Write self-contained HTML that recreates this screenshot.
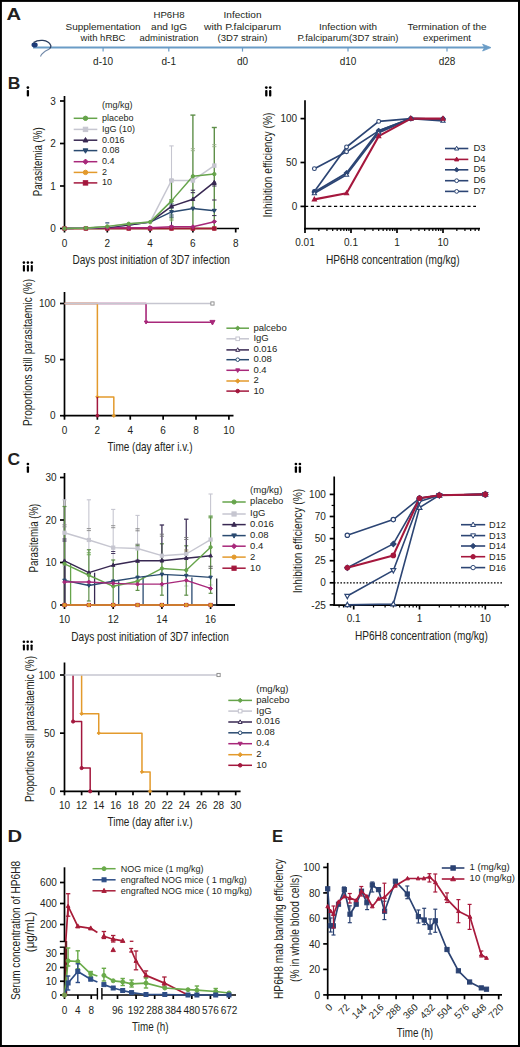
<!DOCTYPE html>
<html><head><meta charset="utf-8"><style>
html,body{margin:0;padding:0;background:#fff;}
svg{display:block;}
text{font-family:"Liberation Sans", sans-serif;fill:#231f20;}
</style></head><body>
<svg width="520" height="1047" viewBox="0 0 520 1047">
<rect width="520" height="1047" fill="#fff"/>
<rect x="0.9" y="0.9" width="518.1" height="1045.1" fill="none" stroke="#000" stroke-width="2"/>
<text x="6.50" y="19.90" font-size="16.6" text-anchor="start" font-weight="bold" textLength="14.6" lengthAdjust="spacingAndGlyphs" >A</text>
<text x="7.70" y="89.20" font-size="16.6" text-anchor="start" font-weight="bold" textLength="12.6" lengthAdjust="spacingAndGlyphs" >B</text>
<text x="7.40" y="464.50" font-size="16.6" text-anchor="start" font-weight="bold" textLength="12.6" lengthAdjust="spacingAndGlyphs" >C</text>
<text x="7.40" y="841.60" font-size="16.6" text-anchor="start" font-weight="bold" textLength="14.6" lengthAdjust="spacingAndGlyphs" >D</text>
<text x="272.10" y="841.60" font-size="16.6" text-anchor="start" font-weight="bold" >E</text>
<circle cx="27.90" cy="87.60" r="1.35" fill="#000"/>
<rect x="26.75" y="89.90" width="2.3" height="6.50" rx="0.9" fill="#000"/>
<circle cx="266.30" cy="87.60" r="1.35" fill="#000"/>
<rect x="265.15" y="90.10" width="2.3" height="6.30" rx="0.9" fill="#000"/>
<circle cx="270.20" cy="87.60" r="1.35" fill="#000"/>
<rect x="269.05" y="90.10" width="2.3" height="6.30" rx="0.9" fill="#000"/>
<circle cx="23.90" cy="262.60" r="1.3" fill="#000"/>
<rect x="22.85" y="264.90" width="2.1" height="6.70" rx="0.9" fill="#000"/>
<circle cx="27.90" cy="262.60" r="1.3" fill="#000"/>
<rect x="26.85" y="264.90" width="2.1" height="6.70" rx="0.9" fill="#000"/>
<circle cx="31.80" cy="262.60" r="1.3" fill="#000"/>
<rect x="30.75" y="264.90" width="2.1" height="6.70" rx="0.9" fill="#000"/>
<circle cx="27.90" cy="464.00" r="1.35" fill="#000"/>
<rect x="26.75" y="466.30" width="2.3" height="6.50" rx="0.9" fill="#000"/>
<circle cx="295.90" cy="464.00" r="1.35" fill="#000"/>
<rect x="294.75" y="466.30" width="2.3" height="6.50" rx="0.9" fill="#000"/>
<circle cx="299.90" cy="464.00" r="1.35" fill="#000"/>
<rect x="298.75" y="466.30" width="2.3" height="6.50" rx="0.9" fill="#000"/>
<circle cx="23.90" cy="641.80" r="1.3" fill="#000"/>
<rect x="22.85" y="644.40" width="2.1" height="6.00" rx="0.9" fill="#000"/>
<circle cx="27.70" cy="641.80" r="1.3" fill="#000"/>
<rect x="26.65" y="644.40" width="2.1" height="6.00" rx="0.9" fill="#000"/>
<circle cx="31.60" cy="641.80" r="1.3" fill="#000"/>
<rect x="30.55" y="644.40" width="2.1" height="6.00" rx="0.9" fill="#000"/>
<line x1="33.00" y1="47.60" x2="486.00" y2="47.60" stroke="#6a9cc6" stroke-width="2.0" />
<polygon points="482.6,44.2 491,47.6 482.6,51.0 484.6,47.6" fill="#6a9cc6" stroke="#6a9cc6" stroke-width="0.8" stroke-linejoin="round"/>
<ellipse cx="34.6" cy="45" rx="3.1" ry="2.4" fill="#1d3b78"/>
<path d="M33.5,42.6 C38,39.5 48,39 50.8,45.5 C51.3,47 50.5,48 49.5,48.8" fill="none" stroke="#2b3d5e" stroke-width="1.3"/>
<path d="M49.5,48.8 C48,50 46,50.6 44.5,51.8 C42.5,53.3 41,55 40.5,56.5" fill="none" stroke="#7088a8" stroke-width="1.1"/>
<line x1="103.10" y1="47.60" x2="103.10" y2="51.60" stroke="#6a9cc6" stroke-width="1.2" />
<text x="103.10" y="64.60" font-size="10" text-anchor="middle" >d-10</text>
<line x1="168.80" y1="47.60" x2="168.80" y2="51.60" stroke="#6a9cc6" stroke-width="1.2" />
<text x="168.80" y="64.60" font-size="10" text-anchor="middle" >d-1</text>
<line x1="242.50" y1="47.60" x2="242.50" y2="51.60" stroke="#6a9cc6" stroke-width="1.2" />
<text x="242.50" y="64.60" font-size="10" text-anchor="middle" >d0</text>
<line x1="348.00" y1="47.60" x2="348.00" y2="51.60" stroke="#6a9cc6" stroke-width="1.2" />
<text x="348.00" y="64.60" font-size="10" text-anchor="middle" >d10</text>
<line x1="447.00" y1="47.60" x2="447.00" y2="51.60" stroke="#6a9cc6" stroke-width="1.2" />
<text x="447.00" y="64.60" font-size="10" text-anchor="middle" >d28</text>
<text x="103.00" y="29.50" font-size="9.6" text-anchor="middle" textLength="75.0" lengthAdjust="spacingAndGlyphs" >Supplementation</text>
<text x="103.00" y="41.00" font-size="9.6" text-anchor="middle" textLength="45.0" lengthAdjust="spacingAndGlyphs" >with hRBC</text>
<text x="169.00" y="17.80" font-size="9.6" text-anchor="middle" textLength="31.0" lengthAdjust="spacingAndGlyphs" >HP6H8</text>
<text x="169.00" y="29.50" font-size="9.6" text-anchor="middle" textLength="36.0" lengthAdjust="spacingAndGlyphs" >and IgG</text>
<text x="169.00" y="41.00" font-size="9.6" text-anchor="middle" textLength="59.0" lengthAdjust="spacingAndGlyphs" >administration</text>
<text x="242.50" y="17.80" font-size="9.6" text-anchor="middle" textLength="38.0" lengthAdjust="spacingAndGlyphs" >Infection</text>
<text x="242.50" y="29.50" font-size="9.6" text-anchor="middle" textLength="77.0" lengthAdjust="spacingAndGlyphs" >with P.falciparum</text>
<text x="242.50" y="41.00" font-size="9.6" text-anchor="middle" textLength="50.0" lengthAdjust="spacingAndGlyphs" >(3D7 strain)</text>
<text x="348.00" y="29.50" font-size="9.6" text-anchor="middle" textLength="58.0" lengthAdjust="spacingAndGlyphs" >Infection with</text>
<text x="348.00" y="41.00" font-size="9.6" text-anchor="middle" textLength="101.0" lengthAdjust="spacingAndGlyphs" >P.falciparum(3D7 strain)</text>
<text x="447.00" y="29.50" font-size="9.6" text-anchor="middle" textLength="79.0" lengthAdjust="spacingAndGlyphs" >Termination of the</text>
<text x="447.00" y="41.00" font-size="9.6" text-anchor="middle" textLength="48.0" lengthAdjust="spacingAndGlyphs" >experiment</text>
<line x1="63.60" y1="228.50" x2="239.00" y2="228.50" stroke="#000" stroke-width="1.7" />
<line x1="64.50" y1="228.50" x2="64.50" y2="232.50" stroke="#000" stroke-width="1.7" />
<text x="64.50" y="247.20" font-size="10" text-anchor="middle" >0</text>
<line x1="107.30" y1="228.50" x2="107.30" y2="232.50" stroke="#000" stroke-width="1.7" />
<text x="107.30" y="247.20" font-size="10" text-anchor="middle" >2</text>
<line x1="150.10" y1="228.50" x2="150.10" y2="232.50" stroke="#000" stroke-width="1.7" />
<text x="150.10" y="247.20" font-size="10" text-anchor="middle" >4</text>
<line x1="192.90" y1="228.50" x2="192.90" y2="232.50" stroke="#000" stroke-width="1.7" />
<text x="192.90" y="247.20" font-size="10" text-anchor="middle" >6</text>
<line x1="235.70" y1="228.50" x2="235.70" y2="232.50" stroke="#000" stroke-width="1.7" />
<text x="235.70" y="247.20" font-size="10" text-anchor="middle" >8</text>
<line x1="64.50" y1="96.00" x2="64.50" y2="229.40" stroke="#000" stroke-width="1.7" />
<line x1="60.00" y1="228.50" x2="64.50" y2="228.50" stroke="#000" stroke-width="1.7" />
<text x="55.80" y="232.10" font-size="10" text-anchor="end" >0</text>
<line x1="60.00" y1="186.00" x2="64.50" y2="186.00" stroke="#000" stroke-width="1.7" />
<text x="55.80" y="189.60" font-size="10" text-anchor="end" >1</text>
<line x1="60.00" y1="143.50" x2="64.50" y2="143.50" stroke="#000" stroke-width="1.7" />
<text x="55.80" y="147.10" font-size="10" text-anchor="end" >2</text>
<line x1="60.00" y1="101.00" x2="64.50" y2="101.00" stroke="#000" stroke-width="1.7" />
<text x="55.80" y="104.60" font-size="10" text-anchor="end" >3</text>
<text x="42.00" y="161.80" font-size="12.8" text-anchor="middle" textLength="69.0" lengthAdjust="spacingAndGlyphs" transform="rotate(-90 42.00 161.80)" >Parasitemia (%)</text>
<text x="151.20" y="263.60" font-size="12.8" text-anchor="middle" textLength="157.5" lengthAdjust="spacingAndGlyphs" >Days post initiation of 3D7 infection</text>
<text x="102.00" y="108.30" font-size="9" text-anchor="start" >(mg/kg)</text>
<line x1="73.70" y1="118.30" x2="97.30" y2="118.30" stroke="#66a44b" stroke-width="1.5" />
<circle cx="85.50" cy="118.30" r="2.2" fill="#66a44b" stroke="#66a44b" stroke-width="1.0"/>
<text x="102.00" y="120.70" font-size="9" text-anchor="start" >placebo</text>
<line x1="73.70" y1="129.40" x2="97.30" y2="129.40" stroke="#c6c6d0" stroke-width="1.5" />
<rect x="83.30" y="127.20" width="4.40" height="4.40" fill="#c6c6d0" stroke="#c6c6d0" stroke-width="1.0"/>
<text x="102.00" y="131.80" font-size="9" text-anchor="start" >IgG (10)</text>
<line x1="73.70" y1="140.20" x2="97.30" y2="140.20" stroke="#382852" stroke-width="1.5" />
<polygon points="85.50,137.56 83.08,141.96 87.92,141.96" fill="#382852" stroke="#382852" stroke-width="1.0"/>
<text x="102.00" y="142.60" font-size="9" text-anchor="start" >0.016</text>
<line x1="73.70" y1="150.60" x2="97.30" y2="150.60" stroke="#2a4a70" stroke-width="1.5" />
<polygon points="85.50,153.24 83.08,148.84 87.92,148.84" fill="#2a4a70" stroke="#2a4a70" stroke-width="1.0"/>
<text x="102.00" y="153.00" font-size="9" text-anchor="start" >0.08</text>
<line x1="73.70" y1="161.70" x2="97.30" y2="161.70" stroke="#a8287a" stroke-width="1.5" />
<polygon points="85.50,159.06 88.14,161.70 85.50,164.34 82.86,161.70" fill="#a8287a" stroke="#a8287a" stroke-width="1.0"/>
<text x="102.00" y="164.10" font-size="9" text-anchor="start" >0.4</text>
<line x1="73.70" y1="172.40" x2="97.30" y2="172.40" stroke="#e39a2c" stroke-width="1.5" />
<circle cx="85.50" cy="172.40" r="2.2" fill="#e39a2c" stroke="#e39a2c" stroke-width="1.0"/>
<text x="102.00" y="174.80" font-size="9" text-anchor="start" >2</text>
<line x1="73.70" y1="182.90" x2="97.30" y2="182.90" stroke="#a3173d" stroke-width="1.5" />
<rect x="83.30" y="180.70" width="4.40" height="4.40" fill="#a3173d" stroke="#a3173d" stroke-width="1.0"/>
<text x="102.00" y="185.30" font-size="9" text-anchor="start" >10</text>
<line x1="171.50" y1="145.90" x2="171.50" y2="228.50" stroke="#c6c6d0" stroke-width="1.1" />
<line x1="169.30" y1="145.90" x2="173.70" y2="145.90" stroke="#c6c6d0" stroke-width="1.1" />
<line x1="169.30" y1="228.50" x2="173.70" y2="228.50" stroke="#c6c6d0" stroke-width="1.1" />
<line x1="192.90" y1="115.10" x2="192.90" y2="228.50" stroke="#5e8f49" stroke-width="1.4" />
<line x1="190.40" y1="115.10" x2="195.40" y2="115.10" stroke="#5e8f49" stroke-width="1.4" />
<line x1="190.40" y1="228.50" x2="195.40" y2="228.50" stroke="#5e8f49" stroke-width="1.4" />
<line x1="214.30" y1="127.50" x2="214.30" y2="228.50" stroke="#5e8f49" stroke-width="1.4" />
<line x1="211.80" y1="127.50" x2="216.80" y2="127.50" stroke="#5e8f49" stroke-width="1.4" />
<line x1="211.80" y1="228.50" x2="216.80" y2="228.50" stroke="#5e8f49" stroke-width="1.4" />
<line x1="171.50" y1="180.00" x2="171.50" y2="226.00" stroke="#382852" stroke-width="1.0" />
<line x1="169.30" y1="180.00" x2="173.70" y2="180.00" stroke="#382852" stroke-width="1.0" />
<line x1="169.30" y1="226.00" x2="173.70" y2="226.00" stroke="#382852" stroke-width="1.0" />
<line x1="171.50" y1="180.00" x2="171.50" y2="222.00" stroke="#5e8f49" stroke-width="1.3" />
<line x1="169.40" y1="199.50" x2="173.60" y2="199.50" stroke="#5e8f49" stroke-width="0.9" />
<line x1="169.40" y1="201.50" x2="173.60" y2="201.50" stroke="#5e8f49" stroke-width="0.9" />
<line x1="169.40" y1="218.00" x2="173.60" y2="218.00" stroke="#5e8f49" stroke-width="0.9" />
<line x1="169.40" y1="220.00" x2="173.60" y2="220.00" stroke="#5e8f49" stroke-width="0.9" />
<line x1="190.80" y1="148.70" x2="195.00" y2="148.70" stroke="#9ab08a" stroke-width="0.9" />
<line x1="190.80" y1="150.70" x2="195.00" y2="150.70" stroke="#9ab08a" stroke-width="0.9" />
<line x1="212.20" y1="144.70" x2="216.40" y2="144.70" stroke="#9ab08a" stroke-width="0.9" />
<line x1="212.20" y1="146.70" x2="216.40" y2="146.70" stroke="#9ab08a" stroke-width="0.9" />
<line x1="190.70" y1="190.20" x2="195.10" y2="190.20" stroke="#382852" stroke-width="1.0" />
<line x1="190.70" y1="192.70" x2="195.10" y2="192.70" stroke="#382852" stroke-width="1.0" />
<line x1="212.10" y1="184.50" x2="216.50" y2="184.50" stroke="#382852" stroke-width="1.0" />
<line x1="212.10" y1="186.00" x2="216.50" y2="186.00" stroke="#382852" stroke-width="1.0" />
<line x1="212.10" y1="200.00" x2="216.50" y2="200.00" stroke="#382852" stroke-width="1.0" />
<line x1="212.10" y1="209.80" x2="216.50" y2="209.80" stroke="#382852" stroke-width="1.0" />
<line x1="212.10" y1="215.60" x2="216.50" y2="215.60" stroke="#382852" stroke-width="1.0" />
<line x1="212.10" y1="221.30" x2="216.50" y2="221.30" stroke="#382852" stroke-width="1.0" />
<line x1="169.30" y1="204.00" x2="173.70" y2="204.00" stroke="#2a4a70" stroke-width="1.0" />
<line x1="169.30" y1="206.00" x2="173.70" y2="206.00" stroke="#2a4a70" stroke-width="1.0" />
<line x1="169.30" y1="208.00" x2="173.70" y2="208.00" stroke="#2a4a70" stroke-width="1.0" />
<line x1="169.30" y1="215.00" x2="173.70" y2="215.00" stroke="#2a4a70" stroke-width="1.0" />
<line x1="169.30" y1="217.00" x2="173.70" y2="217.00" stroke="#2a4a70" stroke-width="1.0" />
<line x1="105.30" y1="222.90" x2="109.30" y2="222.90" stroke="#2a4a70" stroke-width="1.2" />
<polyline points="64.50,228.50 85.90,228.50 107.30,228.50 128.70,228.50 150.10,228.50 171.50,228.50 192.90,228.50 214.30,228.50" fill="none" stroke="#e39a2c" stroke-width="1.5" stroke-linejoin="round" />
<polyline points="64.50,228.50 85.90,228.50 107.30,228.50 128.70,228.50 150.10,228.50 171.50,228.50 192.90,228.50 214.30,228.50" fill="none" stroke="#a3173d" stroke-width="1.5" stroke-linejoin="round" />
<polyline points="64.50,228.50 85.90,228.07 107.30,227.65 128.70,227.65 150.10,227.65 171.50,226.80 192.90,226.80 214.30,221.70" fill="none" stroke="#a8287a" stroke-width="1.5" stroke-linejoin="round" />
<polyline points="64.50,228.50 85.90,228.07 107.30,227.22 128.70,225.10 150.10,222.12 171.50,211.93 192.90,208.53 214.30,210.65" fill="none" stroke="#2a4a70" stroke-width="1.5" stroke-linejoin="round" />
<polyline points="64.50,228.50 85.90,228.07 107.30,227.22 128.70,225.10 150.10,222.12 171.50,206.40 192.90,199.18 214.30,182.18" fill="none" stroke="#382852" stroke-width="1.5" stroke-linejoin="round" />
<polyline points="64.50,228.50 85.90,228.07 107.30,226.80 128.70,223.82 150.10,222.12 171.50,180.47 192.90,180.47 214.30,165.60" fill="none" stroke="#c6c6d0" stroke-width="1.5" stroke-linejoin="round" />
<polyline points="64.50,228.50 85.90,228.07 107.30,226.38 128.70,223.82 150.10,222.12 171.50,200.88 192.90,176.22 214.30,174.10" fill="none" stroke="#66a44b" stroke-width="1.5" stroke-linejoin="round" />
<circle cx="64.50" cy="228.50" r="1.7" fill="#e39a2c" stroke="#e39a2c" stroke-width="1.0"/>
<circle cx="85.90" cy="228.50" r="1.7" fill="#e39a2c" stroke="#e39a2c" stroke-width="1.0"/>
<circle cx="107.30" cy="228.50" r="1.7" fill="#e39a2c" stroke="#e39a2c" stroke-width="1.0"/>
<circle cx="128.70" cy="228.50" r="1.7" fill="#e39a2c" stroke="#e39a2c" stroke-width="1.0"/>
<circle cx="150.10" cy="228.50" r="1.7" fill="#e39a2c" stroke="#e39a2c" stroke-width="1.0"/>
<circle cx="171.50" cy="228.50" r="1.7" fill="#e39a2c" stroke="#e39a2c" stroke-width="1.0"/>
<circle cx="192.90" cy="228.50" r="1.7" fill="#e39a2c" stroke="#e39a2c" stroke-width="1.0"/>
<circle cx="214.30" cy="228.50" r="1.7" fill="#e39a2c" stroke="#e39a2c" stroke-width="1.0"/>
<rect x="62.80" y="226.80" width="3.40" height="3.40" fill="#a3173d" stroke="#a3173d" stroke-width="1.0"/>
<rect x="84.20" y="226.80" width="3.40" height="3.40" fill="#a3173d" stroke="#a3173d" stroke-width="1.0"/>
<rect x="105.60" y="226.80" width="3.40" height="3.40" fill="#a3173d" stroke="#a3173d" stroke-width="1.0"/>
<rect x="127.00" y="226.80" width="3.40" height="3.40" fill="#a3173d" stroke="#a3173d" stroke-width="1.0"/>
<rect x="148.40" y="226.80" width="3.40" height="3.40" fill="#a3173d" stroke="#a3173d" stroke-width="1.0"/>
<rect x="169.80" y="226.80" width="3.40" height="3.40" fill="#a3173d" stroke="#a3173d" stroke-width="1.0"/>
<rect x="191.20" y="226.80" width="3.40" height="3.40" fill="#a3173d" stroke="#a3173d" stroke-width="1.0"/>
<rect x="212.60" y="226.80" width="3.40" height="3.40" fill="#a3173d" stroke="#a3173d" stroke-width="1.0"/>
<polygon points="64.50,226.46 66.54,228.50 64.50,230.54 62.46,228.50" fill="#a8287a" stroke="#a8287a" stroke-width="1.0"/>
<polygon points="85.90,226.03 87.94,228.07 85.90,230.11 83.86,228.07" fill="#a8287a" stroke="#a8287a" stroke-width="1.0"/>
<polygon points="107.30,225.61 109.34,227.65 107.30,229.69 105.26,227.65" fill="#a8287a" stroke="#a8287a" stroke-width="1.0"/>
<polygon points="128.70,225.61 130.74,227.65 128.70,229.69 126.66,227.65" fill="#a8287a" stroke="#a8287a" stroke-width="1.0"/>
<polygon points="150.10,225.61 152.14,227.65 150.10,229.69 148.06,227.65" fill="#a8287a" stroke="#a8287a" stroke-width="1.0"/>
<polygon points="171.50,224.76 173.54,226.80 171.50,228.84 169.46,226.80" fill="#a8287a" stroke="#a8287a" stroke-width="1.0"/>
<polygon points="192.90,224.76 194.94,226.80 192.90,228.84 190.86,226.80" fill="#a8287a" stroke="#a8287a" stroke-width="1.0"/>
<polygon points="214.30,219.66 216.34,221.70 214.30,223.74 212.26,221.70" fill="#a8287a" stroke="#a8287a" stroke-width="1.0"/>
<polygon points="171.50,213.97 169.63,210.56 173.37,210.56" fill="#2a4a70" stroke="#2a4a70" stroke-width="1.0"/>
<polygon points="192.90,210.56 191.03,207.16 194.77,207.16" fill="#2a4a70" stroke="#2a4a70" stroke-width="1.0"/>
<polygon points="214.30,212.69 212.43,209.29 216.17,209.29" fill="#2a4a70" stroke="#2a4a70" stroke-width="1.0"/>
<polygon points="171.50,204.36 169.63,207.76 173.37,207.76" fill="#382852" stroke="#382852" stroke-width="1.0"/>
<polygon points="192.90,197.14 191.03,200.54 194.77,200.54" fill="#382852" stroke="#382852" stroke-width="1.0"/>
<polygon points="214.30,180.14 212.43,183.54 216.17,183.54" fill="#382852" stroke="#382852" stroke-width="1.0"/>
<rect x="169.80" y="178.78" width="3.40" height="3.40" fill="#c6c6d0" stroke="#c6c6d0" stroke-width="1.0"/>
<rect x="191.20" y="178.78" width="3.40" height="3.40" fill="#c6c6d0" stroke="#c6c6d0" stroke-width="1.0"/>
<rect x="212.60" y="163.90" width="3.40" height="3.40" fill="#c6c6d0" stroke="#c6c6d0" stroke-width="1.0"/>
<circle cx="64.50" cy="228.50" r="1.7" fill="#66a44b" stroke="#66a44b" stroke-width="1.0"/>
<circle cx="85.90" cy="228.07" r="1.7" fill="#66a44b" stroke="#66a44b" stroke-width="1.0"/>
<circle cx="107.30" cy="226.38" r="1.7" fill="#66a44b" stroke="#66a44b" stroke-width="1.0"/>
<circle cx="128.70" cy="223.82" r="1.7" fill="#66a44b" stroke="#66a44b" stroke-width="1.0"/>
<circle cx="150.10" cy="222.12" r="1.7" fill="#66a44b" stroke="#66a44b" stroke-width="1.0"/>
<circle cx="171.50" cy="200.88" r="1.7" fill="#66a44b" stroke="#66a44b" stroke-width="1.0"/>
<circle cx="192.90" cy="176.22" r="1.7" fill="#66a44b" stroke="#66a44b" stroke-width="1.0"/>
<circle cx="214.30" cy="174.10" r="1.7" fill="#66a44b" stroke="#66a44b" stroke-width="1.0"/>
<line x1="304.10" y1="228.70" x2="480.00" y2="228.70" stroke="#000" stroke-width="1.7" />
<line x1="305.00" y1="228.70" x2="305.00" y2="233.00" stroke="#000" stroke-width="1.7" />
<text x="305.00" y="245.90" font-size="10" text-anchor="middle" >0.01</text>
<line x1="351.00" y1="228.70" x2="351.00" y2="233.00" stroke="#000" stroke-width="1.7" />
<text x="351.00" y="245.90" font-size="10" text-anchor="middle" >0.1</text>
<line x1="397.00" y1="228.70" x2="397.00" y2="233.00" stroke="#000" stroke-width="1.7" />
<text x="397.00" y="245.90" font-size="10" text-anchor="middle" >1</text>
<line x1="443.00" y1="228.70" x2="443.00" y2="233.00" stroke="#000" stroke-width="1.7" />
<text x="443.00" y="245.90" font-size="10" text-anchor="middle" >10</text>
<line x1="318.85" y1="228.70" x2="318.85" y2="231.00" stroke="#000" stroke-width="1.2" />
<line x1="326.95" y1="228.70" x2="326.95" y2="231.00" stroke="#000" stroke-width="1.2" />
<line x1="332.69" y1="228.70" x2="332.69" y2="231.00" stroke="#000" stroke-width="1.2" />
<line x1="337.15" y1="228.70" x2="337.15" y2="231.00" stroke="#000" stroke-width="1.2" />
<line x1="340.79" y1="228.70" x2="340.79" y2="231.00" stroke="#000" stroke-width="1.2" />
<line x1="343.87" y1="228.70" x2="343.87" y2="231.00" stroke="#000" stroke-width="1.2" />
<line x1="346.54" y1="228.70" x2="346.54" y2="231.00" stroke="#000" stroke-width="1.2" />
<line x1="348.90" y1="228.70" x2="348.90" y2="231.00" stroke="#000" stroke-width="1.2" />
<line x1="364.85" y1="228.70" x2="364.85" y2="231.00" stroke="#000" stroke-width="1.2" />
<line x1="372.95" y1="228.70" x2="372.95" y2="231.00" stroke="#000" stroke-width="1.2" />
<line x1="378.69" y1="228.70" x2="378.69" y2="231.00" stroke="#000" stroke-width="1.2" />
<line x1="383.15" y1="228.70" x2="383.15" y2="231.00" stroke="#000" stroke-width="1.2" />
<line x1="386.79" y1="228.70" x2="386.79" y2="231.00" stroke="#000" stroke-width="1.2" />
<line x1="389.87" y1="228.70" x2="389.87" y2="231.00" stroke="#000" stroke-width="1.2" />
<line x1="392.54" y1="228.70" x2="392.54" y2="231.00" stroke="#000" stroke-width="1.2" />
<line x1="394.90" y1="228.70" x2="394.90" y2="231.00" stroke="#000" stroke-width="1.2" />
<line x1="410.85" y1="228.70" x2="410.85" y2="231.00" stroke="#000" stroke-width="1.2" />
<line x1="418.95" y1="228.70" x2="418.95" y2="231.00" stroke="#000" stroke-width="1.2" />
<line x1="424.69" y1="228.70" x2="424.69" y2="231.00" stroke="#000" stroke-width="1.2" />
<line x1="429.15" y1="228.70" x2="429.15" y2="231.00" stroke="#000" stroke-width="1.2" />
<line x1="432.79" y1="228.70" x2="432.79" y2="231.00" stroke="#000" stroke-width="1.2" />
<line x1="435.87" y1="228.70" x2="435.87" y2="231.00" stroke="#000" stroke-width="1.2" />
<line x1="438.54" y1="228.70" x2="438.54" y2="231.00" stroke="#000" stroke-width="1.2" />
<line x1="440.90" y1="228.70" x2="440.90" y2="231.00" stroke="#000" stroke-width="1.2" />
<line x1="456.85" y1="228.70" x2="456.85" y2="231.00" stroke="#000" stroke-width="1.2" />
<line x1="464.95" y1="228.70" x2="464.95" y2="231.00" stroke="#000" stroke-width="1.2" />
<line x1="470.69" y1="228.70" x2="470.69" y2="231.00" stroke="#000" stroke-width="1.2" />
<line x1="475.15" y1="228.70" x2="475.15" y2="231.00" stroke="#000" stroke-width="1.2" />
<line x1="478.79" y1="228.70" x2="478.79" y2="231.00" stroke="#000" stroke-width="1.2" />
<line x1="305.00" y1="100.20" x2="305.00" y2="229.50" stroke="#000" stroke-width="1.7" />
<line x1="300.50" y1="118.60" x2="305.00" y2="118.60" stroke="#000" stroke-width="1.7" />
<text x="297.20" y="122.20" font-size="10" text-anchor="end" >100</text>
<line x1="300.50" y1="162.50" x2="305.00" y2="162.50" stroke="#000" stroke-width="1.7" />
<text x="297.20" y="166.10" font-size="10" text-anchor="end" >50</text>
<line x1="300.50" y1="206.40" x2="305.00" y2="206.40" stroke="#000" stroke-width="1.7" />
<text x="297.20" y="210.00" font-size="10" text-anchor="end" >0</text>
<line x1="305" y1="206.40" x2="476" y2="206.40" stroke="#000" stroke-width="1.3" stroke-dasharray="3.2,2.6"/>
<text x="272.20" y="165.00" font-size="12.8" text-anchor="middle" textLength="105.0" lengthAdjust="spacingAndGlyphs" transform="rotate(-90 272.20 165.00)" >Inhibition efficiency (%)</text>
<text x="392.80" y="263.80" font-size="12.8" text-anchor="middle" textLength="133.6" lengthAdjust="spacingAndGlyphs" >HP6H8 concentration (mg/kg)</text>
<polyline points="314.39,168.65 346.54,151.70 378.69,130.89 410.85,118.60 443.00,119.04" fill="none" stroke="#2c4574" stroke-width="1.7" stroke-linejoin="round" />
<polyline points="314.39,191.47 346.54,146.96 378.69,121.41 410.85,118.60 443.00,119.04" fill="none" stroke="#2c4574" stroke-width="1.7" stroke-linejoin="round" />
<polyline points="314.39,191.91 346.54,173.04 378.69,130.89 410.85,118.60 443.00,119.04" fill="none" stroke="#2c4574" stroke-width="1.7" stroke-linejoin="round" />
<polyline points="314.39,193.23 346.54,174.79 378.69,132.65 410.85,118.60 443.00,120.80" fill="none" stroke="#2c4574" stroke-width="1.7" stroke-linejoin="round" />
<polyline points="314.39,199.38 346.54,193.23 378.69,136.16 410.85,118.60 443.00,118.60" fill="none" stroke="#a5173d" stroke-width="2.1" stroke-linejoin="round" />
<circle cx="314.39" cy="168.65" r="1.9" fill="#fff" stroke="#2c4574" stroke-width="1.1"/>
<circle cx="346.54" cy="151.70" r="1.9" fill="#fff" stroke="#2c4574" stroke-width="1.1"/>
<circle cx="378.69" cy="130.89" r="1.9" fill="#fff" stroke="#2c4574" stroke-width="1.1"/>
<circle cx="410.85" cy="118.60" r="1.9" fill="#fff" stroke="#2c4574" stroke-width="1.1"/>
<circle cx="443.00" cy="119.04" r="1.9" fill="#fff" stroke="#2c4574" stroke-width="1.1"/>
<circle cx="314.39" cy="191.47" r="1.9" fill="#fff" stroke="#2c4574" stroke-width="1.1"/>
<circle cx="346.54" cy="146.96" r="1.9" fill="#fff" stroke="#2c4574" stroke-width="1.1"/>
<circle cx="378.69" cy="121.41" r="1.9" fill="#fff" stroke="#2c4574" stroke-width="1.1"/>
<circle cx="410.85" cy="118.60" r="1.9" fill="#fff" stroke="#2c4574" stroke-width="1.1"/>
<circle cx="443.00" cy="119.04" r="1.9" fill="#fff" stroke="#2c4574" stroke-width="1.1"/>
<polygon points="314.39,189.63 316.67,191.91 314.39,194.19 312.11,191.91" fill="#2c4574" stroke="#2c4574" stroke-width="1.1"/>
<polygon points="346.54,170.76 348.82,173.04 346.54,175.32 344.26,173.04" fill="#2c4574" stroke="#2c4574" stroke-width="1.1"/>
<polygon points="378.69,128.61 380.97,130.89 378.69,133.17 376.41,130.89" fill="#2c4574" stroke="#2c4574" stroke-width="1.1"/>
<polygon points="410.85,116.32 413.13,118.60 410.85,120.88 408.57,118.60" fill="#2c4574" stroke="#2c4574" stroke-width="1.1"/>
<polygon points="443.00,116.76 445.28,119.04 443.00,121.32 440.72,119.04" fill="#2c4574" stroke="#2c4574" stroke-width="1.1"/>
<polygon points="314.39,190.95 312.30,194.75 316.48,194.75" fill="#fff" stroke="#2c4574" stroke-width="1.1"/>
<polygon points="346.54,172.51 344.45,176.31 348.63,176.31" fill="#fff" stroke="#2c4574" stroke-width="1.1"/>
<polygon points="378.69,130.37 376.60,134.17 380.78,134.17" fill="#fff" stroke="#2c4574" stroke-width="1.1"/>
<polygon points="410.85,116.32 408.76,120.12 412.94,120.12" fill="#fff" stroke="#2c4574" stroke-width="1.1"/>
<polygon points="443.00,118.52 440.91,122.31 445.09,122.31" fill="#fff" stroke="#2c4574" stroke-width="1.1"/>
<polygon points="314.39,197.10 312.30,200.90 316.48,200.90" fill="#a5173d" stroke="#a5173d" stroke-width="1.1"/>
<polygon points="346.54,190.95 344.45,194.75 348.63,194.75" fill="#a5173d" stroke="#a5173d" stroke-width="1.1"/>
<polygon points="378.69,133.88 376.60,137.68 380.78,137.68" fill="#a5173d" stroke="#a5173d" stroke-width="1.1"/>
<polygon points="410.85,116.32 408.76,120.12 412.94,120.12" fill="#a5173d" stroke="#a5173d" stroke-width="1.1"/>
<polygon points="443.00,116.32 440.91,120.12 445.09,120.12" fill="#a5173d" stroke="#a5173d" stroke-width="1.1"/>
<line x1="445.00" y1="148.50" x2="468.30" y2="148.50" stroke="#2c4574" stroke-width="1.6" />
<polygon points="456.65,146.22 454.56,150.02 458.74,150.02" fill="#fff" stroke="#2c4574" stroke-width="1.0"/>
<text x="473.50" y="150.90" font-size="9.5" text-anchor="start" >D3</text>
<line x1="445.00" y1="159.40" x2="468.30" y2="159.40" stroke="#a5173d" stroke-width="1.6" />
<polygon points="456.65,157.12 454.56,160.92 458.74,160.92" fill="#a5173d" stroke="#a5173d" stroke-width="1.0"/>
<text x="473.50" y="161.80" font-size="9.5" text-anchor="start" >D4</text>
<line x1="445.00" y1="169.80" x2="468.30" y2="169.80" stroke="#2c4574" stroke-width="1.6" />
<polygon points="456.65,167.52 458.93,169.80 456.65,172.08 454.37,169.80" fill="#2c4574" stroke="#2c4574" stroke-width="1.0"/>
<text x="473.50" y="172.20" font-size="9.5" text-anchor="start" >D5</text>
<line x1="445.00" y1="180.70" x2="468.30" y2="180.70" stroke="#2c4574" stroke-width="1.6" />
<circle cx="456.65" cy="180.70" r="1.9" fill="#fff" stroke="#2c4574" stroke-width="1.0"/>
<text x="473.50" y="183.10" font-size="9.5" text-anchor="start" >D6</text>
<line x1="445.00" y1="191.40" x2="468.30" y2="191.40" stroke="#2c4574" stroke-width="1.6" />
<circle cx="456.65" cy="191.40" r="1.9" fill="#fff" stroke="#2c4574" stroke-width="1.0"/>
<text x="473.50" y="193.80" font-size="9.5" text-anchor="start" >D7</text>
<line x1="63.60" y1="415.70" x2="233.50" y2="415.70" stroke="#000" stroke-width="1.7" />
<line x1="64.50" y1="415.70" x2="64.50" y2="419.70" stroke="#000" stroke-width="1.7" />
<text x="64.50" y="434.00" font-size="10" text-anchor="middle" >0</text>
<line x1="97.38" y1="415.70" x2="97.38" y2="419.70" stroke="#000" stroke-width="1.7" />
<text x="97.38" y="434.00" font-size="10" text-anchor="middle" >2</text>
<line x1="130.26" y1="415.70" x2="130.26" y2="419.70" stroke="#000" stroke-width="1.7" />
<text x="130.26" y="434.00" font-size="10" text-anchor="middle" >4</text>
<line x1="163.14" y1="415.70" x2="163.14" y2="419.70" stroke="#000" stroke-width="1.7" />
<text x="163.14" y="434.00" font-size="10" text-anchor="middle" >6</text>
<line x1="196.02" y1="415.70" x2="196.02" y2="419.70" stroke="#000" stroke-width="1.7" />
<text x="196.02" y="434.00" font-size="10" text-anchor="middle" >8</text>
<line x1="228.90" y1="415.70" x2="228.90" y2="419.70" stroke="#000" stroke-width="1.7" />
<text x="228.90" y="434.00" font-size="10" text-anchor="middle" >10</text>
<line x1="64.50" y1="292.00" x2="64.50" y2="416.60" stroke="#000" stroke-width="1.7" />
<line x1="60.00" y1="415.70" x2="64.50" y2="415.70" stroke="#000" stroke-width="1.7" />
<text x="55.60" y="419.30" font-size="10" text-anchor="end" >0</text>
<line x1="60.00" y1="359.60" x2="64.50" y2="359.60" stroke="#000" stroke-width="1.7" />
<text x="55.60" y="363.20" font-size="10" text-anchor="end" >50</text>
<line x1="60.00" y1="303.50" x2="64.50" y2="303.50" stroke="#000" stroke-width="1.7" />
<text x="55.60" y="307.10" font-size="10" text-anchor="end" >100</text>
<text x="32.20" y="352.40" font-size="12.8" text-anchor="middle" textLength="147.0" lengthAdjust="spacingAndGlyphs" transform="rotate(-90 32.20 352.40)" >Proportions still parasitaemic (%)</text>
<text x="150.00" y="450.50" font-size="12.8" text-anchor="middle" textLength="85.0" lengthAdjust="spacingAndGlyphs" >Time (day after i.v.)</text>
<polyline points="64.50,303.50 146.04,303.50 146.04,322.24 212.46,322.24" fill="none" stroke="#a8287a" stroke-width="1.6" stroke-linejoin="round" />
<polygon points="146.04,324.04 144.39,321.04 147.69,321.04" fill="#a8287a" stroke="#a8287a" stroke-width="1.0"/>
<polygon points="212.46,325.00 209.93,320.40 214.99,320.40" fill="#a8287a" stroke="#a8287a" stroke-width="1.0"/>
<polyline points="64.50,303.50 97.38,303.50 97.38,396.96 113.82,396.96 113.82,415.70" fill="none" stroke="#e39a2c" stroke-width="1.5" stroke-linejoin="round" />
<polygon points="97.38,395.28 99.06,396.96 97.38,398.64 95.70,396.96" fill="#e39a2c" stroke="#e39a2c" stroke-width="1.0"/>
<polygon points="113.82,414.02 115.50,415.70 113.82,417.38 112.14,415.70" fill="#e39a2c" stroke="#e39a2c" stroke-width="1.0"/>
<line x1="97.38" y1="396.96" x2="97.38" y2="415.70" stroke="#a3173d" stroke-width="1.5" />
<circle cx="97.38" cy="415.70" r="1.4" fill="#a3173d" stroke="#a3173d" stroke-width="1.0"/>
<line x1="64.50" y1="303.50" x2="212.46" y2="303.50" stroke="#c6c6d0" stroke-width="1.4" />
<rect x="210.86" y="301.90" width="3.20" height="3.20" fill="#fff" stroke="#888" stroke-width="0.9"/>
<line x1="226.40" y1="328.20" x2="249.00" y2="328.20" stroke="#66a44b" stroke-width="1.5" />
<polygon points="237.70,326.04 239.86,328.20 237.70,330.36 235.54,328.20" fill="#66a44b" stroke="#66a44b" stroke-width="1.0"/>
<text x="253.40" y="330.60" font-size="9.5" text-anchor="start" >palcebo</text>
<line x1="226.40" y1="338.80" x2="249.00" y2="338.80" stroke="#c6c6d0" stroke-width="1.5" />
<rect x="235.90" y="337.00" width="3.60" height="3.60" fill="#fff" stroke="#c6c6d0" stroke-width="1.0"/>
<text x="253.40" y="341.20" font-size="9.5" text-anchor="start" >IgG</text>
<line x1="226.40" y1="349.90" x2="249.00" y2="349.90" stroke="#382852" stroke-width="1.5" />
<polygon points="237.70,347.74 235.72,351.34 239.68,351.34" fill="#fff" stroke="#382852" stroke-width="1.0"/>
<text x="253.40" y="352.30" font-size="9.5" text-anchor="start" >0.016</text>
<line x1="226.40" y1="359.70" x2="249.00" y2="359.70" stroke="#2a4a70" stroke-width="1.5" />
<circle cx="237.70" cy="359.70" r="1.8" fill="#fff" stroke="#2a4a70" stroke-width="1.0"/>
<text x="253.40" y="362.10" font-size="9.5" text-anchor="start" >0.08</text>
<line x1="226.40" y1="370.30" x2="249.00" y2="370.30" stroke="#a8287a" stroke-width="1.5" />
<polygon points="237.70,372.46 235.72,368.86 239.68,368.86" fill="#a8287a" stroke="#a8287a" stroke-width="1.0"/>
<text x="253.40" y="372.70" font-size="9.5" text-anchor="start" >0.4</text>
<line x1="226.40" y1="381.00" x2="249.00" y2="381.00" stroke="#e39a2c" stroke-width="1.5" />
<polygon points="237.70,378.84 239.86,381.00 237.70,383.16 235.54,381.00" fill="#e39a2c" stroke="#e39a2c" stroke-width="1.0"/>
<text x="253.40" y="383.40" font-size="9.5" text-anchor="start" >2</text>
<line x1="226.40" y1="391.10" x2="249.00" y2="391.10" stroke="#a3173d" stroke-width="1.5" />
<circle cx="237.70" cy="391.10" r="1.8" fill="#a3173d" stroke="#a3173d" stroke-width="1.0"/>
<text x="253.40" y="393.50" font-size="9.5" text-anchor="start" >10</text>
<line x1="63.60" y1="605.00" x2="235.00" y2="605.00" stroke="#000" stroke-width="1.7" />
<line x1="64.50" y1="605.00" x2="64.50" y2="609.00" stroke="#000" stroke-width="1.7" />
<text x="64.50" y="623.20" font-size="10" text-anchor="middle" >10</text>
<line x1="113.20" y1="605.00" x2="113.20" y2="609.00" stroke="#000" stroke-width="1.7" />
<text x="113.20" y="623.20" font-size="10" text-anchor="middle" >12</text>
<line x1="161.90" y1="605.00" x2="161.90" y2="609.00" stroke="#000" stroke-width="1.7" />
<text x="161.90" y="623.20" font-size="10" text-anchor="middle" >14</text>
<line x1="210.60" y1="605.00" x2="210.60" y2="609.00" stroke="#000" stroke-width="1.7" />
<text x="210.60" y="623.20" font-size="10" text-anchor="middle" >16</text>
<line x1="64.50" y1="473.00" x2="64.50" y2="605.90" stroke="#000" stroke-width="1.7" />
<line x1="60.00" y1="605.00" x2="64.50" y2="605.00" stroke="#000" stroke-width="1.7" />
<text x="56.50" y="608.60" font-size="10" text-anchor="end" >0</text>
<line x1="60.00" y1="562.50" x2="64.50" y2="562.50" stroke="#000" stroke-width="1.7" />
<text x="56.50" y="566.10" font-size="10" text-anchor="end" >10</text>
<line x1="60.00" y1="520.00" x2="64.50" y2="520.00" stroke="#000" stroke-width="1.7" />
<text x="56.50" y="523.60" font-size="10" text-anchor="end" >20</text>
<line x1="60.00" y1="477.50" x2="64.50" y2="477.50" stroke="#000" stroke-width="1.7" />
<text x="56.50" y="481.10" font-size="10" text-anchor="end" >30</text>
<text x="38.50" y="538.10" font-size="12.8" text-anchor="middle" textLength="68.8" lengthAdjust="spacingAndGlyphs" transform="rotate(-90 38.50 538.10)" >Parasitemia (%)</text>
<text x="150.00" y="640.50" font-size="12.8" text-anchor="middle" textLength="157.5" lengthAdjust="spacingAndGlyphs" >Days post initiation of 3D7 infection</text>
<line x1="64.50" y1="499.80" x2="64.50" y2="566.00" stroke="#c6c6d0" stroke-width="1.1" />
<line x1="62.40" y1="499.80" x2="66.60" y2="499.80" stroke="#c6c6d0" stroke-width="1.1" />
<line x1="62.40" y1="566.00" x2="66.60" y2="566.00" stroke="#c6c6d0" stroke-width="1.1" />
<line x1="88.85" y1="499.80" x2="88.85" y2="581.00" stroke="#c6c6d0" stroke-width="1.1" />
<line x1="86.75" y1="499.80" x2="90.95" y2="499.80" stroke="#c6c6d0" stroke-width="1.1" />
<line x1="86.75" y1="581.00" x2="90.95" y2="581.00" stroke="#c6c6d0" stroke-width="1.1" />
<line x1="113.20" y1="509.40" x2="113.20" y2="586.00" stroke="#c6c6d0" stroke-width="1.1" />
<line x1="111.10" y1="509.40" x2="115.30" y2="509.40" stroke="#c6c6d0" stroke-width="1.1" />
<line x1="111.10" y1="586.00" x2="115.30" y2="586.00" stroke="#c6c6d0" stroke-width="1.1" />
<line x1="137.55" y1="515.40" x2="137.55" y2="581.00" stroke="#c6c6d0" stroke-width="1.1" />
<line x1="135.45" y1="515.40" x2="139.65" y2="515.40" stroke="#c6c6d0" stroke-width="1.1" />
<line x1="135.45" y1="581.00" x2="139.65" y2="581.00" stroke="#c6c6d0" stroke-width="1.1" />
<line x1="161.90" y1="525.00" x2="161.90" y2="586.00" stroke="#c6c6d0" stroke-width="1.1" />
<line x1="159.80" y1="525.00" x2="164.00" y2="525.00" stroke="#c6c6d0" stroke-width="1.1" />
<line x1="159.80" y1="586.00" x2="164.00" y2="586.00" stroke="#c6c6d0" stroke-width="1.1" />
<line x1="186.25" y1="519.20" x2="186.25" y2="586.00" stroke="#c6c6d0" stroke-width="1.1" />
<line x1="184.15" y1="519.20" x2="188.35" y2="519.20" stroke="#c6c6d0" stroke-width="1.1" />
<line x1="184.15" y1="586.00" x2="188.35" y2="586.00" stroke="#c6c6d0" stroke-width="1.1" />
<line x1="210.60" y1="494.00" x2="210.60" y2="585.00" stroke="#c6c6d0" stroke-width="1.1" />
<line x1="208.50" y1="494.00" x2="212.70" y2="494.00" stroke="#c6c6d0" stroke-width="1.1" />
<line x1="208.50" y1="585.00" x2="212.70" y2="585.00" stroke="#c6c6d0" stroke-width="1.1" />
<line x1="64.50" y1="506.50" x2="64.50" y2="605.00" stroke="#5e8f49" stroke-width="1.2" />
<line x1="62.50" y1="506.50" x2="66.50" y2="506.50" stroke="#5e8f49" stroke-width="1.2" />
<line x1="62.50" y1="605.00" x2="66.50" y2="605.00" stroke="#5e8f49" stroke-width="1.2" />
<line x1="88.85" y1="549.75" x2="88.85" y2="601.00" stroke="#5e8f49" stroke-width="1.2" />
<line x1="86.85" y1="549.75" x2="90.85" y2="549.75" stroke="#5e8f49" stroke-width="1.2" />
<line x1="86.85" y1="601.00" x2="90.85" y2="601.00" stroke="#5e8f49" stroke-width="1.2" />
<line x1="113.20" y1="560.00" x2="113.20" y2="605.00" stroke="#5e8f49" stroke-width="1.2" />
<line x1="111.20" y1="560.00" x2="115.20" y2="560.00" stroke="#5e8f49" stroke-width="1.2" />
<line x1="111.20" y1="605.00" x2="115.20" y2="605.00" stroke="#5e8f49" stroke-width="1.2" />
<line x1="137.55" y1="545.20" x2="137.55" y2="590.40" stroke="#5e8f49" stroke-width="1.2" />
<line x1="135.55" y1="545.20" x2="139.55" y2="545.20" stroke="#5e8f49" stroke-width="1.2" />
<line x1="135.55" y1="590.40" x2="139.55" y2="590.40" stroke="#5e8f49" stroke-width="1.2" />
<line x1="161.90" y1="543.80" x2="161.90" y2="595.20" stroke="#5e8f49" stroke-width="1.2" />
<line x1="159.90" y1="543.80" x2="163.90" y2="543.80" stroke="#5e8f49" stroke-width="1.2" />
<line x1="159.90" y1="595.20" x2="163.90" y2="595.20" stroke="#5e8f49" stroke-width="1.2" />
<line x1="186.25" y1="545.80" x2="186.25" y2="595.20" stroke="#5e8f49" stroke-width="1.2" />
<line x1="184.25" y1="545.80" x2="188.25" y2="545.80" stroke="#5e8f49" stroke-width="1.2" />
<line x1="184.25" y1="595.20" x2="188.25" y2="595.20" stroke="#5e8f49" stroke-width="1.2" />
<line x1="210.60" y1="516.90" x2="210.60" y2="593.30" stroke="#5e8f49" stroke-width="1.2" />
<line x1="208.60" y1="516.90" x2="212.60" y2="516.90" stroke="#5e8f49" stroke-width="1.2" />
<line x1="208.60" y1="593.30" x2="212.60" y2="593.30" stroke="#5e8f49" stroke-width="1.2" />
<line x1="161.90" y1="525.00" x2="161.90" y2="560.00" stroke="#382852" stroke-width="1.1" />
<line x1="159.70" y1="525.00" x2="164.10" y2="525.00" stroke="#382852" stroke-width="1.1" />
<line x1="159.70" y1="560.00" x2="164.10" y2="560.00" stroke="#382852" stroke-width="1.1" />
<line x1="186.25" y1="519.20" x2="186.25" y2="558.00" stroke="#382852" stroke-width="1.1" />
<line x1="184.05" y1="519.20" x2="188.45" y2="519.20" stroke="#382852" stroke-width="1.1" />
<line x1="184.05" y1="558.00" x2="188.45" y2="558.00" stroke="#382852" stroke-width="1.1" />
<line x1="62.40" y1="524.80" x2="66.60" y2="524.80" stroke="#888" stroke-width="0.9" />
<line x1="62.40" y1="526.80" x2="66.60" y2="526.80" stroke="#888" stroke-width="0.9" />
<line x1="62.40" y1="539.00" x2="66.60" y2="539.00" stroke="#382852" stroke-width="0.9" />
<line x1="62.40" y1="541.00" x2="66.60" y2="541.00" stroke="#382852" stroke-width="0.9" />
<line x1="86.75" y1="528.60" x2="90.95" y2="528.60" stroke="#888" stroke-width="0.9" />
<line x1="86.75" y1="530.60" x2="90.95" y2="530.60" stroke="#888" stroke-width="0.9" />
<line x1="86.75" y1="552.75" x2="90.95" y2="552.75" stroke="#66a44b" stroke-width="0.9" />
<line x1="86.75" y1="554.75" x2="90.95" y2="554.75" stroke="#66a44b" stroke-width="0.9" />
<line x1="111.10" y1="525.70" x2="115.30" y2="525.70" stroke="#888" stroke-width="0.9" />
<line x1="111.10" y1="527.70" x2="115.30" y2="527.70" stroke="#888" stroke-width="0.9" />
<line x1="111.10" y1="551.50" x2="115.30" y2="551.50" stroke="#382852" stroke-width="0.9" />
<line x1="111.10" y1="553.50" x2="115.30" y2="553.50" stroke="#382852" stroke-width="0.9" />
<line x1="135.45" y1="528.80" x2="139.65" y2="528.80" stroke="#777" stroke-width="0.9" />
<line x1="135.45" y1="530.80" x2="139.65" y2="530.80" stroke="#777" stroke-width="0.9" />
<line x1="135.45" y1="544.20" x2="139.65" y2="544.20" stroke="#777" stroke-width="0.9" />
<line x1="135.45" y1="546.20" x2="139.65" y2="546.20" stroke="#777" stroke-width="0.9" />
<line x1="135.45" y1="560.20" x2="139.65" y2="560.20" stroke="#382852" stroke-width="0.9" />
<line x1="135.45" y1="562.20" x2="139.65" y2="562.20" stroke="#382852" stroke-width="0.9" />
<line x1="159.80" y1="534.20" x2="164.00" y2="534.20" stroke="#777" stroke-width="0.9" />
<line x1="159.80" y1="536.20" x2="164.00" y2="536.20" stroke="#777" stroke-width="0.9" />
<line x1="184.15" y1="537.50" x2="188.35" y2="537.50" stroke="#777" stroke-width="0.9" />
<line x1="184.15" y1="539.50" x2="188.35" y2="539.50" stroke="#777" stroke-width="0.9" />
<line x1="184.15" y1="550.00" x2="188.35" y2="550.00" stroke="#8a7a50" stroke-width="0.9" />
<line x1="184.15" y1="552.00" x2="188.35" y2="552.00" stroke="#8a7a50" stroke-width="0.9" />
<line x1="208.50" y1="515.90" x2="212.70" y2="515.90" stroke="#66a44b" stroke-width="0.9" />
<line x1="208.50" y1="517.90" x2="212.70" y2="517.90" stroke="#66a44b" stroke-width="0.9" />
<line x1="208.50" y1="566.30" x2="212.70" y2="566.30" stroke="#555" stroke-width="0.9" />
<line x1="208.50" y1="568.30" x2="212.70" y2="568.30" stroke="#555" stroke-width="0.9" />
<line x1="64.80" y1="565.00" x2="64.80" y2="605.00" stroke="#382852" stroke-width="1.3" />
<line x1="70.60" y1="564.00" x2="70.60" y2="605.00" stroke="#66a44b" stroke-width="1.3" />
<line x1="94.60" y1="572.70" x2="94.60" y2="605.00" stroke="#382852" stroke-width="1.3" />
<line x1="118.70" y1="581.30" x2="118.70" y2="605.00" stroke="#2a4a70" stroke-width="1.3" />
<line x1="143.10" y1="576.50" x2="143.10" y2="605.00" stroke="#2a4a70" stroke-width="1.3" />
<line x1="167.60" y1="574.60" x2="167.60" y2="605.00" stroke="#2a4a70" stroke-width="1.3" />
<line x1="191.90" y1="577.50" x2="191.90" y2="605.00" stroke="#2a4a70" stroke-width="1.3" />
<line x1="216.70" y1="578.50" x2="216.70" y2="605.00" stroke="#1a2030" stroke-width="1.3" />
<polyline points="64.50,532.75 88.85,539.98 113.20,547.62 137.55,548.48 161.90,555.70 186.25,554.00 210.60,539.55" fill="none" stroke="#c6c6d0" stroke-width="1.4" stroke-linejoin="round" />
<polyline points="64.50,560.80 88.85,572.70 113.20,565.05 137.55,560.80 161.90,560.80 186.25,558.25 210.60,555.70" fill="none" stroke="#382852" stroke-width="1.4" stroke-linejoin="round" />
<polyline points="64.50,563.77 88.85,575.25 113.20,586.30 137.55,581.20 161.90,568.45 186.25,570.15 210.60,547.20" fill="none" stroke="#66a44b" stroke-width="1.4" stroke-linejoin="round" />
<polyline points="64.50,580.35 88.85,585.45 113.20,581.20 137.55,577.38 161.90,574.40 186.25,575.67 210.60,577.38" fill="none" stroke="#2a4a70" stroke-width="1.4" stroke-linejoin="round" />
<polyline points="64.50,582.05 88.85,582.05 113.20,583.33 137.55,584.17 161.90,584.17 186.25,580.35 210.60,588.42" fill="none" stroke="#a8287a" stroke-width="1.4" stroke-linejoin="round" />
<polyline points="64.50,605.00 88.85,605.00 113.20,605.00 137.55,605.00 161.90,605.00 186.25,605.00 210.60,605.00" fill="none" stroke="#a3173d" stroke-width="1.4" stroke-linejoin="round" />
<polyline points="64.50,605.00 88.85,605.00 113.20,605.00 137.55,605.00 161.90,605.00 186.25,605.00 210.60,605.00" fill="none" stroke="#e39a2c" stroke-width="1.4" stroke-linejoin="round" />
<rect x="62.90" y="531.15" width="3.20" height="3.20" fill="#c6c6d0" stroke="#c6c6d0" stroke-width="1.0"/>
<rect x="87.25" y="538.38" width="3.20" height="3.20" fill="#c6c6d0" stroke="#c6c6d0" stroke-width="1.0"/>
<rect x="111.60" y="546.02" width="3.20" height="3.20" fill="#c6c6d0" stroke="#c6c6d0" stroke-width="1.0"/>
<rect x="135.95" y="546.88" width="3.20" height="3.20" fill="#c6c6d0" stroke="#c6c6d0" stroke-width="1.0"/>
<rect x="160.30" y="554.10" width="3.20" height="3.20" fill="#c6c6d0" stroke="#c6c6d0" stroke-width="1.0"/>
<rect x="184.65" y="552.40" width="3.20" height="3.20" fill="#c6c6d0" stroke="#c6c6d0" stroke-width="1.0"/>
<rect x="209.00" y="537.95" width="3.20" height="3.20" fill="#c6c6d0" stroke="#c6c6d0" stroke-width="1.0"/>
<polygon points="64.50,558.88 62.74,562.08 66.26,562.08" fill="#382852" stroke="#382852" stroke-width="1.0"/>
<polygon points="88.85,570.78 87.09,573.98 90.61,573.98" fill="#382852" stroke="#382852" stroke-width="1.0"/>
<polygon points="113.20,563.13 111.44,566.33 114.96,566.33" fill="#382852" stroke="#382852" stroke-width="1.0"/>
<polygon points="137.55,558.88 135.79,562.08 139.31,562.08" fill="#382852" stroke="#382852" stroke-width="1.0"/>
<polygon points="161.90,558.88 160.14,562.08 163.66,562.08" fill="#382852" stroke="#382852" stroke-width="1.0"/>
<polygon points="186.25,556.33 184.49,559.53 188.01,559.53" fill="#382852" stroke="#382852" stroke-width="1.0"/>
<polygon points="210.60,553.78 208.84,556.98 212.36,556.98" fill="#382852" stroke="#382852" stroke-width="1.0"/>
<circle cx="64.50" cy="563.77" r="1.6" fill="#66a44b" stroke="#66a44b" stroke-width="1.0"/>
<circle cx="88.85" cy="575.25" r="1.6" fill="#66a44b" stroke="#66a44b" stroke-width="1.0"/>
<circle cx="113.20" cy="586.30" r="1.6" fill="#66a44b" stroke="#66a44b" stroke-width="1.0"/>
<circle cx="137.55" cy="581.20" r="1.6" fill="#66a44b" stroke="#66a44b" stroke-width="1.0"/>
<circle cx="161.90" cy="568.45" r="1.6" fill="#66a44b" stroke="#66a44b" stroke-width="1.0"/>
<circle cx="186.25" cy="570.15" r="1.6" fill="#66a44b" stroke="#66a44b" stroke-width="1.0"/>
<circle cx="210.60" cy="547.20" r="1.6" fill="#66a44b" stroke="#66a44b" stroke-width="1.0"/>
<polygon points="64.50,582.27 62.74,579.07 66.26,579.07" fill="#2a4a70" stroke="#2a4a70" stroke-width="1.0"/>
<polygon points="88.85,587.37 87.09,584.17 90.61,584.17" fill="#2a4a70" stroke="#2a4a70" stroke-width="1.0"/>
<polygon points="113.20,583.12 111.44,579.92 114.96,579.92" fill="#2a4a70" stroke="#2a4a70" stroke-width="1.0"/>
<polygon points="137.55,579.29 135.79,576.10 139.31,576.10" fill="#2a4a70" stroke="#2a4a70" stroke-width="1.0"/>
<polygon points="161.90,576.32 160.14,573.12 163.66,573.12" fill="#2a4a70" stroke="#2a4a70" stroke-width="1.0"/>
<polygon points="186.25,577.59 184.49,574.39 188.01,574.39" fill="#2a4a70" stroke="#2a4a70" stroke-width="1.0"/>
<polygon points="210.60,579.29 208.84,576.10 212.36,576.10" fill="#2a4a70" stroke="#2a4a70" stroke-width="1.0"/>
<polygon points="64.50,580.13 66.42,582.05 64.50,583.97 62.58,582.05" fill="#a8287a" stroke="#a8287a" stroke-width="1.0"/>
<polygon points="88.85,580.13 90.77,582.05 88.85,583.97 86.93,582.05" fill="#a8287a" stroke="#a8287a" stroke-width="1.0"/>
<polygon points="113.20,581.41 115.12,583.33 113.20,585.25 111.28,583.33" fill="#a8287a" stroke="#a8287a" stroke-width="1.0"/>
<polygon points="137.55,582.25 139.47,584.17 137.55,586.09 135.63,584.17" fill="#a8287a" stroke="#a8287a" stroke-width="1.0"/>
<polygon points="161.90,582.25 163.82,584.17 161.90,586.09 159.98,584.17" fill="#a8287a" stroke="#a8287a" stroke-width="1.0"/>
<polygon points="186.25,578.43 188.17,580.35 186.25,582.27 184.33,580.35" fill="#a8287a" stroke="#a8287a" stroke-width="1.0"/>
<polygon points="210.60,586.50 212.52,588.42 210.60,590.34 208.68,588.42" fill="#a8287a" stroke="#a8287a" stroke-width="1.0"/>
<rect x="62.90" y="603.40" width="3.20" height="3.20" fill="#a3173d" stroke="#a3173d" stroke-width="1.0"/>
<rect x="87.25" y="603.40" width="3.20" height="3.20" fill="#a3173d" stroke="#a3173d" stroke-width="1.0"/>
<rect x="111.60" y="603.40" width="3.20" height="3.20" fill="#a3173d" stroke="#a3173d" stroke-width="1.0"/>
<rect x="135.95" y="603.40" width="3.20" height="3.20" fill="#a3173d" stroke="#a3173d" stroke-width="1.0"/>
<rect x="160.30" y="603.40" width="3.20" height="3.20" fill="#a3173d" stroke="#a3173d" stroke-width="1.0"/>
<rect x="184.65" y="603.40" width="3.20" height="3.20" fill="#a3173d" stroke="#a3173d" stroke-width="1.0"/>
<rect x="209.00" y="603.40" width="3.20" height="3.20" fill="#a3173d" stroke="#a3173d" stroke-width="1.0"/>
<circle cx="64.50" cy="605.00" r="1.6" fill="#e39a2c" stroke="#e39a2c" stroke-width="1.0"/>
<circle cx="88.85" cy="605.00" r="1.6" fill="#e39a2c" stroke="#e39a2c" stroke-width="1.0"/>
<circle cx="113.20" cy="605.00" r="1.6" fill="#e39a2c" stroke="#e39a2c" stroke-width="1.0"/>
<circle cx="137.55" cy="605.00" r="1.6" fill="#e39a2c" stroke="#e39a2c" stroke-width="1.0"/>
<circle cx="161.90" cy="605.00" r="1.6" fill="#e39a2c" stroke="#e39a2c" stroke-width="1.0"/>
<circle cx="186.25" cy="605.00" r="1.6" fill="#e39a2c" stroke="#e39a2c" stroke-width="1.0"/>
<circle cx="210.60" cy="605.00" r="1.6" fill="#e39a2c" stroke="#e39a2c" stroke-width="1.0"/>
<line x1="216.30" y1="605.00" x2="235.00" y2="605.00" stroke="#000" stroke-width="1.7" />
<text x="250.10" y="492.50" font-size="9.5" text-anchor="start" >(mg/kg)</text>
<line x1="222.40" y1="502.00" x2="245.70" y2="502.00" stroke="#66a44b" stroke-width="1.5" />
<circle cx="234.05" cy="502.00" r="2.1" fill="#66a44b" stroke="#66a44b" stroke-width="1.0"/>
<text x="250.10" y="504.40" font-size="9.5" text-anchor="start" >placebo</text>
<line x1="222.40" y1="514.00" x2="245.70" y2="514.00" stroke="#c6c6d0" stroke-width="1.5" />
<rect x="231.95" y="511.90" width="4.20" height="4.20" fill="#c6c6d0" stroke="#c6c6d0" stroke-width="1.0"/>
<text x="250.10" y="516.40" font-size="9.5" text-anchor="start" >IgG</text>
<line x1="222.40" y1="524.60" x2="245.70" y2="524.60" stroke="#382852" stroke-width="1.5" />
<polygon points="234.05,522.08 231.74,526.28 236.36,526.28" fill="#382852" stroke="#382852" stroke-width="1.0"/>
<text x="250.10" y="527.00" font-size="9.5" text-anchor="start" >0.016</text>
<line x1="222.40" y1="535.60" x2="245.70" y2="535.60" stroke="#2a4a70" stroke-width="1.5" />
<polygon points="234.05,538.12 231.74,533.92 236.36,533.92" fill="#2a4a70" stroke="#2a4a70" stroke-width="1.0"/>
<text x="250.10" y="538.00" font-size="9.5" text-anchor="start" >0.08</text>
<line x1="222.40" y1="546.20" x2="245.70" y2="546.20" stroke="#a8287a" stroke-width="1.5" />
<polygon points="234.05,543.68 236.57,546.20 234.05,548.72 231.53,546.20" fill="#a8287a" stroke="#a8287a" stroke-width="1.0"/>
<text x="250.10" y="548.60" font-size="9.5" text-anchor="start" >0.4</text>
<line x1="222.40" y1="557.10" x2="245.70" y2="557.10" stroke="#e39a2c" stroke-width="1.5" />
<circle cx="234.05" cy="557.10" r="2.1" fill="#e39a2c" stroke="#e39a2c" stroke-width="1.0"/>
<text x="250.10" y="559.50" font-size="9.5" text-anchor="start" >2</text>
<line x1="222.40" y1="568.20" x2="245.70" y2="568.20" stroke="#a3173d" stroke-width="1.5" />
<rect x="231.95" y="566.10" width="4.20" height="4.20" fill="#a3173d" stroke="#a3173d" stroke-width="1.0"/>
<text x="250.10" y="570.60" font-size="9.5" text-anchor="start" >10</text>
<line x1="333.30" y1="605.20" x2="509.00" y2="605.20" stroke="#000" stroke-width="1.7" />
<line x1="353.70" y1="605.20" x2="353.70" y2="609.50" stroke="#000" stroke-width="1.7" />
<text x="353.70" y="622.20" font-size="10" text-anchor="middle" >0.1</text>
<line x1="419.50" y1="605.20" x2="419.50" y2="609.50" stroke="#000" stroke-width="1.7" />
<text x="419.50" y="622.20" font-size="10" text-anchor="middle" >1</text>
<line x1="485.30" y1="605.20" x2="485.30" y2="609.50" stroke="#000" stroke-width="1.7" />
<text x="485.30" y="622.20" font-size="10" text-anchor="middle" >10</text>
<line x1="339.10" y1="605.20" x2="339.10" y2="607.50" stroke="#000" stroke-width="1.2" />
<line x1="343.51" y1="605.20" x2="343.51" y2="607.50" stroke="#000" stroke-width="1.2" />
<line x1="347.32" y1="605.20" x2="347.32" y2="607.50" stroke="#000" stroke-width="1.2" />
<line x1="350.69" y1="605.20" x2="350.69" y2="607.50" stroke="#000" stroke-width="1.2" />
<line x1="373.51" y1="605.20" x2="373.51" y2="607.50" stroke="#000" stroke-width="1.2" />
<line x1="385.09" y1="605.20" x2="385.09" y2="607.50" stroke="#000" stroke-width="1.2" />
<line x1="393.32" y1="605.20" x2="393.32" y2="607.50" stroke="#000" stroke-width="1.2" />
<line x1="399.69" y1="605.20" x2="399.69" y2="607.50" stroke="#000" stroke-width="1.2" />
<line x1="404.90" y1="605.20" x2="404.90" y2="607.50" stroke="#000" stroke-width="1.2" />
<line x1="409.31" y1="605.20" x2="409.31" y2="607.50" stroke="#000" stroke-width="1.2" />
<line x1="413.12" y1="605.20" x2="413.12" y2="607.50" stroke="#000" stroke-width="1.2" />
<line x1="416.49" y1="605.20" x2="416.49" y2="607.50" stroke="#000" stroke-width="1.2" />
<line x1="439.31" y1="605.20" x2="439.31" y2="607.50" stroke="#000" stroke-width="1.2" />
<line x1="450.89" y1="605.20" x2="450.89" y2="607.50" stroke="#000" stroke-width="1.2" />
<line x1="459.12" y1="605.20" x2="459.12" y2="607.50" stroke="#000" stroke-width="1.2" />
<line x1="465.49" y1="605.20" x2="465.49" y2="607.50" stroke="#000" stroke-width="1.2" />
<line x1="470.70" y1="605.20" x2="470.70" y2="607.50" stroke="#000" stroke-width="1.2" />
<line x1="475.11" y1="605.20" x2="475.11" y2="607.50" stroke="#000" stroke-width="1.2" />
<line x1="478.92" y1="605.20" x2="478.92" y2="607.50" stroke="#000" stroke-width="1.2" />
<line x1="482.29" y1="605.20" x2="482.29" y2="607.50" stroke="#000" stroke-width="1.2" />
<line x1="505.11" y1="605.20" x2="505.11" y2="607.50" stroke="#000" stroke-width="1.2" />
<line x1="334.20" y1="476.50" x2="334.20" y2="606.00" stroke="#000" stroke-width="1.7" />
<line x1="329.70" y1="494.40" x2="334.20" y2="494.40" stroke="#000" stroke-width="1.7" />
<text x="325.80" y="498.00" font-size="10" text-anchor="end" >100</text>
<line x1="329.70" y1="516.50" x2="334.20" y2="516.50" stroke="#000" stroke-width="1.7" />
<text x="325.80" y="520.10" font-size="10" text-anchor="end" >70</text>
<line x1="329.70" y1="538.60" x2="334.20" y2="538.60" stroke="#000" stroke-width="1.7" />
<text x="325.80" y="542.20" font-size="10" text-anchor="end" >50</text>
<line x1="329.70" y1="560.70" x2="334.20" y2="560.70" stroke="#000" stroke-width="1.7" />
<text x="325.80" y="564.30" font-size="10" text-anchor="end" >25</text>
<line x1="329.70" y1="582.80" x2="334.20" y2="582.80" stroke="#000" stroke-width="1.7" />
<text x="325.80" y="586.40" font-size="10" text-anchor="end" >0</text>
<line x1="329.70" y1="604.90" x2="334.20" y2="604.90" stroke="#000" stroke-width="1.7" />
<text x="325.80" y="608.50" font-size="10" text-anchor="end" >-25</text>
<line x1="331.60" y1="505.45" x2="334.20" y2="505.45" stroke="#000" stroke-width="1.2" />
<line x1="331.60" y1="527.55" x2="334.20" y2="527.55" stroke="#000" stroke-width="1.2" />
<line x1="331.60" y1="549.65" x2="334.20" y2="549.65" stroke="#000" stroke-width="1.2" />
<line x1="331.60" y1="571.75" x2="334.20" y2="571.75" stroke="#000" stroke-width="1.2" />
<line x1="331.60" y1="593.85" x2="334.20" y2="593.85" stroke="#000" stroke-width="1.2" />
<line x1="334" y1="582.80" x2="502" y2="582.80" stroke="#000" stroke-width="1.3" stroke-dasharray="1.6,1.6"/>
<text x="301.80" y="541.00" font-size="12.8" text-anchor="middle" textLength="104.4" lengthAdjust="spacingAndGlyphs" transform="rotate(-90 301.80 541.00)" >Inhibition efficiency (%)</text>
<text x="421.40" y="640.00" font-size="12.8" text-anchor="middle" textLength="132.8" lengthAdjust="spacingAndGlyphs" >HP6H8 concentration (mg/kg)</text>
<polyline points="347.32,535.24 393.32,519.59 419.50,498.29 439.31,495.28 485.30,494.40" fill="none" stroke="#2c4574" stroke-width="1.6" stroke-linejoin="round" />
<polyline points="347.32,567.77 393.32,543.90 419.50,498.29 439.31,495.28 485.30,494.40" fill="none" stroke="#2c4574" stroke-width="1.6" stroke-linejoin="round" />
<polyline points="347.32,596.06 393.32,570.42 419.50,501.47 439.31,495.28 485.30,494.40" fill="none" stroke="#2c4574" stroke-width="1.6" stroke-linejoin="round" />
<polyline points="347.32,604.90 393.32,604.02 419.50,507.66 439.31,495.28 485.30,494.40" fill="none" stroke="#2c4574" stroke-width="1.6" stroke-linejoin="round" />
<polyline points="347.32,567.77 393.32,555.40 419.50,498.29 439.31,495.28 485.30,494.40" fill="none" stroke="#a5173d" stroke-width="2.1" stroke-linejoin="round" />
<circle cx="347.32" cy="535.24" r="2.2" fill="#fff" stroke="#2c4574" stroke-width="1.2"/>
<circle cx="393.32" cy="519.59" r="2.2" fill="#fff" stroke="#2c4574" stroke-width="1.2"/>
<circle cx="419.50" cy="498.29" r="2.2" fill="#fff" stroke="#2c4574" stroke-width="1.2"/>
<circle cx="439.31" cy="495.28" r="2.2" fill="#fff" stroke="#2c4574" stroke-width="1.2"/>
<circle cx="485.30" cy="494.40" r="2.2" fill="#fff" stroke="#2c4574" stroke-width="1.2"/>
<polygon points="347.32,565.13 349.96,567.77 347.32,570.41 344.68,567.77" fill="#2c4574" stroke="#2c4574" stroke-width="1.2"/>
<polygon points="393.32,541.26 395.96,543.90 393.32,546.54 390.68,543.90" fill="#2c4574" stroke="#2c4574" stroke-width="1.2"/>
<polygon points="419.50,495.65 422.14,498.29 419.50,500.93 416.86,498.29" fill="#2c4574" stroke="#2c4574" stroke-width="1.2"/>
<polygon points="439.31,492.64 441.95,495.28 439.31,497.92 436.67,495.28" fill="#2c4574" stroke="#2c4574" stroke-width="1.2"/>
<polygon points="485.30,491.76 487.94,494.40 485.30,497.04 482.66,494.40" fill="#2c4574" stroke="#2c4574" stroke-width="1.2"/>
<polygon points="347.32,598.70 344.90,594.30 349.74,594.30" fill="#fff" stroke="#2c4574" stroke-width="1.2"/>
<polygon points="393.32,573.06 390.90,568.66 395.74,568.66" fill="#fff" stroke="#2c4574" stroke-width="1.2"/>
<polygon points="419.50,504.11 417.08,499.71 421.92,499.71" fill="#fff" stroke="#2c4574" stroke-width="1.2"/>
<polygon points="439.31,497.92 436.89,493.52 441.73,493.52" fill="#fff" stroke="#2c4574" stroke-width="1.2"/>
<polygon points="485.30,497.04 482.88,492.64 487.72,492.64" fill="#fff" stroke="#2c4574" stroke-width="1.2"/>
<polygon points="347.32,602.26 344.90,606.66 349.74,606.66" fill="#fff" stroke="#2c4574" stroke-width="1.2"/>
<polygon points="393.32,601.38 390.90,605.78 395.74,605.78" fill="#fff" stroke="#2c4574" stroke-width="1.2"/>
<polygon points="419.50,505.02 417.08,509.42 421.92,509.42" fill="#fff" stroke="#2c4574" stroke-width="1.2"/>
<polygon points="439.31,492.64 436.89,497.04 441.73,497.04" fill="#fff" stroke="#2c4574" stroke-width="1.2"/>
<polygon points="485.30,491.76 482.88,496.16 487.72,496.16" fill="#fff" stroke="#2c4574" stroke-width="1.2"/>
<circle cx="347.32" cy="567.77" r="2.2" fill="#a5173d" stroke="#a5173d" stroke-width="1.2"/>
<circle cx="393.32" cy="555.40" r="2.2" fill="#a5173d" stroke="#a5173d" stroke-width="1.2"/>
<circle cx="419.50" cy="498.29" r="2.2" fill="#a5173d" stroke="#a5173d" stroke-width="1.2"/>
<circle cx="439.31" cy="495.28" r="2.2" fill="#a5173d" stroke="#a5173d" stroke-width="1.2"/>
<circle cx="485.30" cy="494.40" r="2.2" fill="#a5173d" stroke="#a5173d" stroke-width="1.2"/>
<line x1="461.00" y1="524.70" x2="485.20" y2="524.70" stroke="#2c4574" stroke-width="1.6" />
<polygon points="473.10,522.06 470.68,526.46 475.52,526.46" fill="#fff" stroke="#2c4574" stroke-width="1.0"/>
<text x="489.00" y="527.60" font-size="9.2" text-anchor="start" >D12</text>
<line x1="461.00" y1="535.60" x2="485.20" y2="535.60" stroke="#2c4574" stroke-width="1.6" />
<polygon points="473.10,538.24 470.68,533.84 475.52,533.84" fill="#fff" stroke="#2c4574" stroke-width="1.0"/>
<text x="489.00" y="538.50" font-size="9.2" text-anchor="start" >D13</text>
<line x1="461.00" y1="546.00" x2="485.20" y2="546.00" stroke="#2c4574" stroke-width="1.6" />
<polygon points="473.10,543.36 475.74,546.00 473.10,548.64 470.46,546.00" fill="#2c4574" stroke="#2c4574" stroke-width="1.0"/>
<text x="489.00" y="548.90" font-size="9.2" text-anchor="start" >D14</text>
<line x1="461.00" y1="556.70" x2="485.20" y2="556.70" stroke="#a5173d" stroke-width="1.6" />
<circle cx="473.10" cy="556.70" r="2.2" fill="#a5173d" stroke="#a5173d" stroke-width="1.0"/>
<text x="489.00" y="559.60" font-size="9.2" text-anchor="start" >D15</text>
<line x1="461.00" y1="567.60" x2="485.20" y2="567.60" stroke="#2c4574" stroke-width="1.6" />
<circle cx="473.10" cy="567.60" r="2.2" fill="#fff" stroke="#2c4574" stroke-width="1.0"/>
<text x="489.00" y="570.50" font-size="9.2" text-anchor="start" >D16</text>
<line x1="63.60" y1="791.30" x2="240.60" y2="791.30" stroke="#000" stroke-width="1.7" />
<line x1="64.50" y1="791.30" x2="64.50" y2="795.30" stroke="#000" stroke-width="1.7" />
<text x="64.50" y="808.50" font-size="10" text-anchor="middle" >10</text>
<line x1="81.62" y1="791.30" x2="81.62" y2="795.30" stroke="#000" stroke-width="1.7" />
<text x="81.62" y="808.50" font-size="10" text-anchor="middle" >12</text>
<line x1="98.74" y1="791.30" x2="98.74" y2="795.30" stroke="#000" stroke-width="1.7" />
<text x="98.74" y="808.50" font-size="10" text-anchor="middle" >14</text>
<line x1="115.86" y1="791.30" x2="115.86" y2="795.30" stroke="#000" stroke-width="1.7" />
<text x="115.86" y="808.50" font-size="10" text-anchor="middle" >16</text>
<line x1="132.98" y1="791.30" x2="132.98" y2="795.30" stroke="#000" stroke-width="1.7" />
<text x="132.98" y="808.50" font-size="10" text-anchor="middle" >18</text>
<line x1="150.10" y1="791.30" x2="150.10" y2="795.30" stroke="#000" stroke-width="1.7" />
<text x="150.10" y="808.50" font-size="10" text-anchor="middle" >20</text>
<line x1="167.22" y1="791.30" x2="167.22" y2="795.30" stroke="#000" stroke-width="1.7" />
<text x="167.22" y="808.50" font-size="10" text-anchor="middle" >22</text>
<line x1="184.34" y1="791.30" x2="184.34" y2="795.30" stroke="#000" stroke-width="1.7" />
<text x="184.34" y="808.50" font-size="10" text-anchor="middle" >24</text>
<line x1="201.46" y1="791.30" x2="201.46" y2="795.30" stroke="#000" stroke-width="1.7" />
<text x="201.46" y="808.50" font-size="10" text-anchor="middle" >26</text>
<line x1="218.58" y1="791.30" x2="218.58" y2="795.30" stroke="#000" stroke-width="1.7" />
<text x="218.58" y="808.50" font-size="10" text-anchor="middle" >28</text>
<line x1="235.70" y1="791.30" x2="235.70" y2="795.30" stroke="#000" stroke-width="1.7" />
<text x="235.70" y="808.50" font-size="10" text-anchor="middle" >30</text>
<line x1="64.50" y1="662.50" x2="64.50" y2="792.20" stroke="#000" stroke-width="1.7" />
<line x1="60.00" y1="791.30" x2="64.50" y2="791.30" stroke="#000" stroke-width="1.7" />
<text x="55.20" y="794.90" font-size="10" text-anchor="end" >0</text>
<line x1="60.00" y1="733.15" x2="64.50" y2="733.15" stroke="#000" stroke-width="1.7" />
<text x="55.20" y="736.75" font-size="10" text-anchor="end" >50</text>
<line x1="60.00" y1="675.00" x2="64.50" y2="675.00" stroke="#000" stroke-width="1.7" />
<text x="55.20" y="678.60" font-size="10" text-anchor="end" >100</text>
<text x="33.50" y="729.00" font-size="12.8" text-anchor="middle" textLength="146.0" lengthAdjust="spacingAndGlyphs" transform="rotate(-90 33.50 729.00)" >Proportions still parasitaemic (%)</text>
<text x="150.00" y="826.30" font-size="12.8" text-anchor="middle" textLength="85.0" lengthAdjust="spacingAndGlyphs" >Time (day after i.v.)</text>
<polyline points="81.62,675.00 81.62,713.73 98.74,713.73 98.74,733.15 141.97,733.15 141.97,771.88 150.10,771.88 150.10,791.30" fill="none" stroke="#e39a2c" stroke-width="1.5" stroke-linejoin="round" />
<polygon points="81.62,712.05 83.30,713.73 81.62,715.41 79.94,713.73" fill="#e39a2c" stroke="#e39a2c" stroke-width="1.0"/>
<polygon points="98.74,731.47 100.42,733.15 98.74,734.83 97.06,733.15" fill="#e39a2c" stroke="#e39a2c" stroke-width="1.0"/>
<polygon points="141.97,770.20 143.65,771.88 141.97,773.56 140.29,771.88" fill="#e39a2c" stroke="#e39a2c" stroke-width="1.0"/>
<polygon points="150.10,789.62 151.78,791.30 150.10,792.98 148.42,791.30" fill="#e39a2c" stroke="#e39a2c" stroke-width="1.0"/>
<polyline points="73.06,675.00 73.06,721.52 81.62,721.52 81.62,768.04 90.18,768.04 90.18,791.30" fill="none" stroke="#a3173d" stroke-width="1.5" stroke-linejoin="round" />
<circle cx="73.06" cy="721.52" r="1.6" fill="#a3173d" stroke="#a3173d" stroke-width="1.0"/>
<circle cx="81.62" cy="768.04" r="1.6" fill="#a3173d" stroke="#a3173d" stroke-width="1.0"/>
<circle cx="90.18" cy="791.30" r="1.6" fill="#a3173d" stroke="#a3173d" stroke-width="1.0"/>
<line x1="64.50" y1="675.00" x2="218.58" y2="675.00" stroke="#c6c6d0" stroke-width="1.4" />
<rect x="216.98" y="673.40" width="3.20" height="3.20" fill="#fff" stroke="#888" stroke-width="0.9"/>
<text x="256.30" y="691.90" font-size="9.5" text-anchor="start" >(mg/kg)</text>
<line x1="228.30" y1="700.40" x2="252.00" y2="700.40" stroke="#66a44b" stroke-width="1.5" />
<polygon points="240.15,698.24 242.31,700.40 240.15,702.56 237.99,700.40" fill="#66a44b" stroke="#66a44b" stroke-width="1.0"/>
<text x="256.30" y="702.80" font-size="9.5" text-anchor="start" >palcebo</text>
<line x1="228.30" y1="711.10" x2="252.00" y2="711.10" stroke="#c6c6d0" stroke-width="1.5" />
<rect x="238.35" y="709.30" width="3.60" height="3.60" fill="#fff" stroke="#c6c6d0" stroke-width="1.0"/>
<text x="256.30" y="713.50" font-size="9.5" text-anchor="start" >IgG</text>
<line x1="228.30" y1="722.00" x2="252.00" y2="722.00" stroke="#382852" stroke-width="1.5" />
<polygon points="240.15,719.84 238.17,723.44 242.13,723.44" fill="#fff" stroke="#382852" stroke-width="1.0"/>
<text x="256.30" y="724.40" font-size="9.5" text-anchor="start" >0.016</text>
<line x1="228.30" y1="732.80" x2="252.00" y2="732.80" stroke="#2a4a70" stroke-width="1.5" />
<circle cx="240.15" cy="732.80" r="1.8" fill="#fff" stroke="#2a4a70" stroke-width="1.0"/>
<text x="256.30" y="735.20" font-size="9.5" text-anchor="start" >0.08</text>
<line x1="228.30" y1="743.70" x2="252.00" y2="743.70" stroke="#a8287a" stroke-width="1.5" />
<polygon points="240.15,745.86 238.17,742.26 242.13,742.26" fill="#a8287a" stroke="#a8287a" stroke-width="1.0"/>
<text x="256.30" y="746.10" font-size="9.5" text-anchor="start" >0.4</text>
<line x1="228.30" y1="754.70" x2="252.00" y2="754.70" stroke="#e39a2c" stroke-width="1.5" />
<polygon points="240.15,752.54 242.31,754.70 240.15,756.86 237.99,754.70" fill="#e39a2c" stroke="#e39a2c" stroke-width="1.0"/>
<text x="256.30" y="757.10" font-size="9.5" text-anchor="start" >2</text>
<line x1="228.30" y1="765.30" x2="252.00" y2="765.30" stroke="#a3173d" stroke-width="1.5" />
<circle cx="240.15" cy="765.30" r="1.8" fill="#a3173d" stroke="#a3173d" stroke-width="1.0"/>
<text x="256.30" y="767.70" font-size="9.5" text-anchor="start" >10</text>
<line x1="64.50" y1="867.30" x2="64.50" y2="941.50" stroke="#000" stroke-width="1.7" />
<line x1="64.50" y1="947.20" x2="64.50" y2="995.90" stroke="#000" stroke-width="1.7" />
<line x1="59.80" y1="941.50" x2="65.30" y2="941.50" stroke="#000" stroke-width="1.4" />
<line x1="59.80" y1="947.20" x2="65.30" y2="947.20" stroke="#000" stroke-width="1.4" />
<line x1="60.00" y1="882.50" x2="64.50" y2="882.50" stroke="#000" stroke-width="1.7" />
<text x="56.80" y="886.10" font-size="10" text-anchor="end" >600</text>
<line x1="60.00" y1="903.50" x2="64.50" y2="903.50" stroke="#000" stroke-width="1.7" />
<text x="56.80" y="907.10" font-size="10" text-anchor="end" >400</text>
<line x1="60.00" y1="924.50" x2="64.50" y2="924.50" stroke="#000" stroke-width="1.7" />
<text x="56.80" y="928.10" font-size="10" text-anchor="end" >200</text>
<line x1="60.00" y1="995.00" x2="64.50" y2="995.00" stroke="#000" stroke-width="1.7" />
<text x="56.80" y="998.60" font-size="10" text-anchor="end" >0</text>
<line x1="60.00" y1="981.25" x2="64.50" y2="981.25" stroke="#000" stroke-width="1.7" />
<text x="56.80" y="984.85" font-size="10" text-anchor="end" >10</text>
<line x1="60.00" y1="967.50" x2="64.50" y2="967.50" stroke="#000" stroke-width="1.7" />
<text x="56.80" y="971.10" font-size="10" text-anchor="end" >20</text>
<line x1="60.00" y1="953.75" x2="64.50" y2="953.75" stroke="#000" stroke-width="1.7" />
<text x="56.80" y="957.35" font-size="10" text-anchor="end" >30</text>
<line x1="63.60" y1="995.00" x2="97.40" y2="995.00" stroke="#000" stroke-width="1.7" />
<line x1="101.90" y1="995.00" x2="236.00" y2="995.00" stroke="#000" stroke-width="1.7" />
<line x1="97.40" y1="988.00" x2="97.40" y2="999.50" stroke="#000" stroke-width="1.4" />
<line x1="101.90" y1="988.00" x2="101.90" y2="999.50" stroke="#000" stroke-width="1.4" />
<line x1="64.50" y1="995.00" x2="64.50" y2="999.00" stroke="#000" stroke-width="1.7" />
<text x="64.50" y="1013.60" font-size="10" text-anchor="middle" >0</text>
<line x1="77.88" y1="995.00" x2="77.88" y2="999.00" stroke="#000" stroke-width="1.7" />
<text x="77.88" y="1013.60" font-size="10" text-anchor="middle" >4</text>
<line x1="91.25" y1="995.00" x2="91.25" y2="999.00" stroke="#000" stroke-width="1.7" />
<text x="91.25" y="1013.60" font-size="10" text-anchor="middle" >8</text>
<line x1="117.50" y1="995.00" x2="117.50" y2="999.00" stroke="#000" stroke-width="1.7" />
<text x="117.50" y="1013.60" font-size="10" text-anchor="middle" >96</text>
<line x1="136.09" y1="995.00" x2="136.09" y2="999.00" stroke="#000" stroke-width="1.7" />
<text x="136.09" y="1013.60" font-size="10" text-anchor="middle" >192</text>
<line x1="154.67" y1="995.00" x2="154.67" y2="999.00" stroke="#000" stroke-width="1.7" />
<text x="154.67" y="1013.60" font-size="10" text-anchor="middle" >288</text>
<line x1="173.26" y1="995.00" x2="173.26" y2="999.00" stroke="#000" stroke-width="1.7" />
<text x="173.26" y="1013.60" font-size="10" text-anchor="middle" >384</text>
<line x1="191.84" y1="995.00" x2="191.84" y2="999.00" stroke="#000" stroke-width="1.7" />
<text x="191.84" y="1013.60" font-size="10" text-anchor="middle" >480</text>
<line x1="210.43" y1="995.00" x2="210.43" y2="999.00" stroke="#000" stroke-width="1.7" />
<text x="210.43" y="1013.60" font-size="10" text-anchor="middle" >576</text>
<line x1="229.01" y1="995.00" x2="229.01" y2="999.00" stroke="#000" stroke-width="1.7" />
<text x="229.01" y="1013.60" font-size="10" text-anchor="middle" >672</text>
<text x="20.00" y="930.50" font-size="12.8" text-anchor="middle" textLength="139.0" lengthAdjust="spacingAndGlyphs" transform="rotate(-90 20.00 930.50)" >Serum concentration of HP6H8</text>
<text x="33.50" y="932.00" font-size="12.8" text-anchor="middle" textLength="40.5" lengthAdjust="spacingAndGlyphs" transform="rotate(-90 33.50 932.00)" >(μg/mL)</text>
<text x="150.30" y="1030.80" font-size="12.8" text-anchor="middle" textLength="36.4" lengthAdjust="spacingAndGlyphs" >Time (h)</text>
<line x1="92.50" y1="868.70" x2="115.60" y2="868.70" stroke="#6aab4a" stroke-width="1.5" />
<circle cx="104.05" cy="868.70" r="2.0" fill="#6aab4a" stroke="#6aab4a" stroke-width="1.0"/>
<text x="120.80" y="871.90" font-size="9.6" text-anchor="start" textLength="82.8" lengthAdjust="spacingAndGlyphs" >NOG mice (1 mg/kg)</text>
<line x1="92.50" y1="879.80" x2="115.60" y2="879.80" stroke="#2d4d86" stroke-width="1.5" />
<rect x="102.05" y="877.80" width="4.00" height="4.00" fill="#2d4d86" stroke="#2d4d86" stroke-width="1.0"/>
<text x="120.80" y="883.00" font-size="9.6" text-anchor="start" textLength="126.0" lengthAdjust="spacingAndGlyphs" >engrafted NOG mice ( 1 mg/kg)</text>
<line x1="92.50" y1="890.80" x2="115.60" y2="890.80" stroke="#a81c38" stroke-width="1.5" />
<polygon points="104.05,888.40 101.85,892.40 106.25,892.40" fill="#a81c38" stroke="#a81c38" stroke-width="1.0"/>
<text x="120.80" y="894.00" font-size="9.6" text-anchor="start" textLength="131.2" lengthAdjust="spacingAndGlyphs" >engrafted NOG mice ( 10 mg/kg)</text>
<line x1="66.00" y1="941.00" x2="66.00" y2="995.00" stroke="#6a1a22" stroke-width="2.4" />
<line x1="68.10" y1="893.70" x2="68.10" y2="916.20" stroke="#a81c38" stroke-width="1.3" />
<line x1="65.90" y1="893.70" x2="70.30" y2="893.70" stroke="#a81c38" stroke-width="1.3" />
<line x1="65.90" y1="916.20" x2="70.30" y2="916.20" stroke="#a81c38" stroke-width="1.3" />
<polyline points="65.80,941.00 68.10,906.20 77.80,926.30 90.70,928.30 97.40,932.50" fill="none" stroke="#a81c38" stroke-width="1.7" stroke-linejoin="round" />
<polygon points="77.80,923.90 75.60,927.90 80.00,927.90" fill="#a81c38" stroke="#a81c38" stroke-width="1.0"/>
<polygon points="90.70,925.90 88.50,929.90 92.90,929.90" fill="#a81c38" stroke="#a81c38" stroke-width="1.0"/>
<polygon points="68.10,904.28 66.34,907.48 69.86,907.48" fill="#a81c38" stroke="#a81c38" stroke-width="1.0"/>
<polyline points="103.90,936.20 113.20,939.20 122.70,940.80" fill="none" stroke="#a81c38" stroke-width="1.7" stroke-linejoin="round" />
<line x1="103.90" y1="931.50" x2="103.90" y2="938.50" stroke="#a81c38" stroke-width="1.3" />
<line x1="101.70" y1="931.50" x2="106.10" y2="931.50" stroke="#a81c38" stroke-width="1.3" />
<line x1="101.70" y1="938.50" x2="106.10" y2="938.50" stroke="#a81c38" stroke-width="1.3" />
<line x1="113.20" y1="935.50" x2="113.20" y2="942.00" stroke="#a81c38" stroke-width="1.3" />
<line x1="111.00" y1="935.50" x2="115.40" y2="935.50" stroke="#a81c38" stroke-width="1.3" />
<line x1="111.00" y1="942.00" x2="115.40" y2="942.00" stroke="#a81c38" stroke-width="1.3" />
<polygon points="103.90,933.80 101.70,937.80 106.10,937.80" fill="#a81c38" stroke="#a81c38" stroke-width="1.0"/>
<polygon points="113.20,936.80 111.00,940.80 115.40,940.80" fill="#a81c38" stroke="#a81c38" stroke-width="1.0"/>
<polygon points="122.70,938.40 120.50,942.40 124.90,942.40" fill="#a81c38" stroke="#a81c38" stroke-width="1.0"/>
<polygon points="113.20,947.60 111.00,951.60 115.40,951.60" fill="#a81c38" stroke="#a81c38" stroke-width="1.0"/>
<line x1="129.80" y1="941.30" x2="133.40" y2="941.30" stroke="#a81c38" stroke-width="1.3" />
<polyline points="131.20,950.00 136.00,961.00 146.00,975.40 164.40,983.10 188.00,995.00" fill="none" stroke="#a81c38" stroke-width="1.7" stroke-linejoin="round" />
<line x1="131.20" y1="948.50" x2="131.20" y2="952.00" stroke="#a81c38" stroke-width="1.3" />
<line x1="129.20" y1="948.50" x2="133.20" y2="948.50" stroke="#a81c38" stroke-width="1.3" />
<line x1="129.20" y1="952.00" x2="133.20" y2="952.00" stroke="#a81c38" stroke-width="1.3" />
<line x1="136.00" y1="951.00" x2="136.00" y2="969.80" stroke="#a81c38" stroke-width="1.3" />
<line x1="133.80" y1="951.00" x2="138.20" y2="951.00" stroke="#a81c38" stroke-width="1.3" />
<line x1="133.80" y1="969.80" x2="138.20" y2="969.80" stroke="#a81c38" stroke-width="1.3" />
<line x1="146.00" y1="970.90" x2="146.00" y2="977.60" stroke="#a81c38" stroke-width="1.3" />
<line x1="143.80" y1="970.90" x2="148.20" y2="970.90" stroke="#a81c38" stroke-width="1.3" />
<line x1="143.80" y1="977.60" x2="148.20" y2="977.60" stroke="#a81c38" stroke-width="1.3" />
<line x1="164.40" y1="977.00" x2="164.40" y2="986.00" stroke="#a81c38" stroke-width="1.3" />
<line x1="162.20" y1="977.00" x2="166.60" y2="977.00" stroke="#a81c38" stroke-width="1.3" />
<line x1="162.20" y1="986.00" x2="166.60" y2="986.00" stroke="#a81c38" stroke-width="1.3" />
<polygon points="136.00,958.84 134.02,962.44 137.98,962.44" fill="#a81c38" stroke="#a81c38" stroke-width="1.0"/>
<polygon points="146.00,973.00 143.80,977.00 148.20,977.00" fill="#a81c38" stroke="#a81c38" stroke-width="1.0"/>
<polygon points="164.40,980.70 162.20,984.70 166.60,984.70" fill="#a81c38" stroke="#a81c38" stroke-width="1.0"/>
<line x1="68.10" y1="948.00" x2="68.10" y2="966.00" stroke="#6aab4a" stroke-width="1.4" />
<line x1="65.90" y1="948.00" x2="70.30" y2="948.00" stroke="#6aab4a" stroke-width="1.4" />
<line x1="65.90" y1="966.00" x2="70.30" y2="966.00" stroke="#6aab4a" stroke-width="1.4" />
<line x1="77.80" y1="950.80" x2="77.80" y2="968.80" stroke="#6aab4a" stroke-width="1.4" />
<line x1="75.60" y1="950.80" x2="80.00" y2="950.80" stroke="#6aab4a" stroke-width="1.4" />
<line x1="75.60" y1="968.80" x2="80.00" y2="968.80" stroke="#6aab4a" stroke-width="1.4" />
<line x1="90.70" y1="971.50" x2="90.70" y2="976.50" stroke="#6aab4a" stroke-width="1.4" />
<line x1="88.50" y1="971.50" x2="92.90" y2="971.50" stroke="#6aab4a" stroke-width="1.4" />
<line x1="88.50" y1="976.50" x2="92.90" y2="976.50" stroke="#6aab4a" stroke-width="1.4" />
<line x1="103.90" y1="968.30" x2="103.90" y2="981.00" stroke="#6aab4a" stroke-width="1.4" />
<line x1="101.70" y1="968.30" x2="106.10" y2="968.30" stroke="#6aab4a" stroke-width="1.4" />
<line x1="101.70" y1="981.00" x2="106.10" y2="981.00" stroke="#6aab4a" stroke-width="1.4" />
<line x1="122.70" y1="978.50" x2="122.70" y2="985.50" stroke="#6aab4a" stroke-width="1.4" />
<line x1="120.50" y1="978.50" x2="124.90" y2="978.50" stroke="#6aab4a" stroke-width="1.4" />
<line x1="120.50" y1="985.50" x2="124.90" y2="985.50" stroke="#6aab4a" stroke-width="1.4" />
<line x1="131.60" y1="980.00" x2="131.60" y2="987.00" stroke="#6aab4a" stroke-width="1.4" />
<line x1="129.40" y1="980.00" x2="133.80" y2="980.00" stroke="#6aab4a" stroke-width="1.4" />
<line x1="129.40" y1="987.00" x2="133.80" y2="987.00" stroke="#6aab4a" stroke-width="1.4" />
<line x1="146.00" y1="978.00" x2="146.00" y2="988.00" stroke="#6aab4a" stroke-width="1.4" />
<line x1="143.80" y1="978.00" x2="148.20" y2="978.00" stroke="#6aab4a" stroke-width="1.4" />
<line x1="143.80" y1="988.00" x2="148.20" y2="988.00" stroke="#6aab4a" stroke-width="1.4" />
<line x1="196.90" y1="986.00" x2="196.90" y2="994.00" stroke="#6aab4a" stroke-width="1.4" />
<line x1="194.70" y1="986.00" x2="199.10" y2="986.00" stroke="#6aab4a" stroke-width="1.4" />
<line x1="194.70" y1="994.00" x2="199.10" y2="994.00" stroke="#6aab4a" stroke-width="1.4" />
<line x1="215.70" y1="988.50" x2="215.70" y2="994.50" stroke="#6aab4a" stroke-width="1.4" />
<line x1="213.50" y1="988.50" x2="217.90" y2="988.50" stroke="#6aab4a" stroke-width="1.4" />
<line x1="213.50" y1="994.50" x2="217.90" y2="994.50" stroke="#6aab4a" stroke-width="1.4" />
<polyline points="64.50,995.00 68.10,960.80 77.80,961.50 90.70,973.80 97.40,976.00" fill="none" stroke="#6aab4a" stroke-width="1.7" stroke-linejoin="round" />
<polyline points="103.90,975.40 113.20,980.80 122.70,981.90 131.60,983.80 146.00,983.10 164.80,988.00 188.00,989.70 196.90,990.20 215.70,991.50 229.00,993.00" fill="none" stroke="#6aab4a" stroke-width="1.7" stroke-linejoin="round" />
<circle cx="68.10" cy="960.80" r="2.0" fill="#6aab4a" stroke="#6aab4a" stroke-width="1.0"/>
<circle cx="77.80" cy="961.50" r="2.0" fill="#6aab4a" stroke="#6aab4a" stroke-width="1.0"/>
<circle cx="90.70" cy="973.80" r="2.0" fill="#6aab4a" stroke="#6aab4a" stroke-width="1.0"/>
<circle cx="103.90" cy="975.40" r="2.0" fill="#6aab4a" stroke="#6aab4a" stroke-width="1.0"/>
<circle cx="113.20" cy="980.80" r="2.0" fill="#6aab4a" stroke="#6aab4a" stroke-width="1.0"/>
<circle cx="122.70" cy="981.90" r="2.0" fill="#6aab4a" stroke="#6aab4a" stroke-width="1.0"/>
<circle cx="131.60" cy="983.80" r="2.0" fill="#6aab4a" stroke="#6aab4a" stroke-width="1.0"/>
<circle cx="146.00" cy="983.10" r="2.0" fill="#6aab4a" stroke="#6aab4a" stroke-width="1.0"/>
<circle cx="164.80" cy="988.00" r="2.0" fill="#6aab4a" stroke="#6aab4a" stroke-width="1.0"/>
<circle cx="188.00" cy="989.70" r="2.0" fill="#6aab4a" stroke="#6aab4a" stroke-width="1.0"/>
<circle cx="196.90" cy="990.20" r="2.0" fill="#6aab4a" stroke="#6aab4a" stroke-width="1.0"/>
<circle cx="215.70" cy="991.50" r="2.0" fill="#6aab4a" stroke="#6aab4a" stroke-width="1.0"/>
<circle cx="229.00" cy="993.00" r="2.0" fill="#6aab4a" stroke="#6aab4a" stroke-width="1.0"/>
<line x1="77.80" y1="963.80" x2="77.80" y2="982.50" stroke="#2d4d86" stroke-width="1.4" />
<line x1="75.60" y1="963.80" x2="80.00" y2="963.80" stroke="#2d4d86" stroke-width="1.4" />
<line x1="75.60" y1="982.50" x2="80.00" y2="982.50" stroke="#2d4d86" stroke-width="1.4" />
<line x1="68.10" y1="976.00" x2="68.10" y2="990.00" stroke="#2d4d86" stroke-width="1.4" />
<line x1="65.90" y1="976.00" x2="70.30" y2="976.00" stroke="#2d4d86" stroke-width="1.4" />
<line x1="65.90" y1="990.00" x2="70.30" y2="990.00" stroke="#2d4d86" stroke-width="1.4" />
<polyline points="64.50,995.00 68.10,983.00 77.80,971.50 90.70,979.20 97.40,982.00" fill="none" stroke="#2d4d86" stroke-width="1.7" stroke-linejoin="round" />
<polyline points="103.90,984.60 113.20,988.00 122.70,990.50 131.60,992.60 146.00,994.50 164.80,994.50 188.00,995.00 196.90,995.00 215.70,995.00 229.00,995.00" fill="none" stroke="#2d4d86" stroke-width="1.7" stroke-linejoin="round" />
<rect x="66.10" y="981.00" width="4.00" height="4.00" fill="#2d4d86" stroke="#2d4d86" stroke-width="1.0"/>
<rect x="75.80" y="969.50" width="4.00" height="4.00" fill="#2d4d86" stroke="#2d4d86" stroke-width="1.0"/>
<rect x="88.70" y="977.20" width="4.00" height="4.00" fill="#2d4d86" stroke="#2d4d86" stroke-width="1.0"/>
<rect x="101.90" y="982.60" width="4.00" height="4.00" fill="#2d4d86" stroke="#2d4d86" stroke-width="1.0"/>
<rect x="111.20" y="986.00" width="4.00" height="4.00" fill="#2d4d86" stroke="#2d4d86" stroke-width="1.0"/>
<rect x="120.70" y="988.50" width="4.00" height="4.00" fill="#2d4d86" stroke="#2d4d86" stroke-width="1.0"/>
<rect x="129.60" y="990.60" width="4.00" height="4.00" fill="#2d4d86" stroke="#2d4d86" stroke-width="1.0"/>
<rect x="144.00" y="992.50" width="4.00" height="4.00" fill="#2d4d86" stroke="#2d4d86" stroke-width="1.0"/>
<rect x="162.80" y="992.50" width="4.00" height="4.00" fill="#2d4d86" stroke="#2d4d86" stroke-width="1.0"/>
<rect x="186.00" y="993.00" width="4.00" height="4.00" fill="#2d4d86" stroke="#2d4d86" stroke-width="1.0"/>
<rect x="194.90" y="993.00" width="4.00" height="4.00" fill="#2d4d86" stroke="#2d4d86" stroke-width="1.0"/>
<rect x="213.70" y="993.00" width="4.00" height="4.00" fill="#2d4d86" stroke="#2d4d86" stroke-width="1.0"/>
<rect x="227.00" y="993.00" width="4.00" height="4.00" fill="#2d4d86" stroke="#2d4d86" stroke-width="1.0"/>
<circle cx="64.50" cy="995.00" r="2.2" fill="#7a9a50" stroke="#7a9a50" stroke-width="1.0"/>
<line x1="327.70" y1="862.90" x2="327.70" y2="995.80" stroke="#000" stroke-width="1.7" />
<line x1="323.20" y1="994.90" x2="327.70" y2="994.90" stroke="#000" stroke-width="1.7" />
<text x="320.00" y="998.50" font-size="10" text-anchor="end" >0</text>
<line x1="323.20" y1="969.40" x2="327.70" y2="969.40" stroke="#000" stroke-width="1.7" />
<text x="320.00" y="973.00" font-size="10" text-anchor="end" >20</text>
<line x1="323.20" y1="943.90" x2="327.70" y2="943.90" stroke="#000" stroke-width="1.7" />
<text x="320.00" y="947.50" font-size="10" text-anchor="end" >40</text>
<line x1="323.20" y1="918.40" x2="327.70" y2="918.40" stroke="#000" stroke-width="1.7" />
<text x="320.00" y="922.00" font-size="10" text-anchor="end" >60</text>
<line x1="323.20" y1="892.90" x2="327.70" y2="892.90" stroke="#000" stroke-width="1.7" />
<text x="320.00" y="896.50" font-size="10" text-anchor="end" >80</text>
<line x1="323.20" y1="867.40" x2="327.70" y2="867.40" stroke="#000" stroke-width="1.7" />
<text x="320.00" y="871.00" font-size="10" text-anchor="end" >100</text>
<line x1="326.80" y1="994.90" x2="502.00" y2="994.90" stroke="#000" stroke-width="1.7" />
<line x1="327.70" y1="994.90" x2="327.70" y2="999.30" stroke="#000" stroke-width="1.7" />
<text x="333.10" y="1008.00" font-size="9.8" text-anchor="end" transform="rotate(-45 333.10 1008.00)">0</text>
<line x1="344.80" y1="994.90" x2="344.80" y2="999.30" stroke="#000" stroke-width="1.7" />
<text x="350.20" y="1008.00" font-size="9.8" text-anchor="end" transform="rotate(-45 350.20 1008.00)">72</text>
<line x1="361.90" y1="994.90" x2="361.90" y2="999.30" stroke="#000" stroke-width="1.7" />
<text x="367.30" y="1008.00" font-size="9.8" text-anchor="end" transform="rotate(-45 367.30 1008.00)">144</text>
<line x1="379.00" y1="994.90" x2="379.00" y2="999.30" stroke="#000" stroke-width="1.7" />
<text x="384.40" y="1008.00" font-size="9.8" text-anchor="end" transform="rotate(-45 384.40 1008.00)">216</text>
<line x1="396.10" y1="994.90" x2="396.10" y2="999.30" stroke="#000" stroke-width="1.7" />
<text x="401.50" y="1008.00" font-size="9.8" text-anchor="end" transform="rotate(-45 401.50 1008.00)">288</text>
<line x1="413.20" y1="994.90" x2="413.20" y2="999.30" stroke="#000" stroke-width="1.7" />
<text x="418.60" y="1008.00" font-size="9.8" text-anchor="end" transform="rotate(-45 418.60 1008.00)">360</text>
<line x1="430.30" y1="994.90" x2="430.30" y2="999.30" stroke="#000" stroke-width="1.7" />
<text x="435.70" y="1008.00" font-size="9.8" text-anchor="end" transform="rotate(-45 435.70 1008.00)">432</text>
<line x1="447.40" y1="994.90" x2="447.40" y2="999.30" stroke="#000" stroke-width="1.7" />
<text x="452.80" y="1008.00" font-size="9.8" text-anchor="end" transform="rotate(-45 452.80 1008.00)">504</text>
<line x1="464.50" y1="994.90" x2="464.50" y2="999.30" stroke="#000" stroke-width="1.7" />
<text x="469.90" y="1008.00" font-size="9.8" text-anchor="end" transform="rotate(-45 469.90 1008.00)">576</text>
<line x1="481.60" y1="994.90" x2="481.60" y2="999.30" stroke="#000" stroke-width="1.7" />
<text x="487.00" y="1008.00" font-size="9.8" text-anchor="end" transform="rotate(-45 487.00 1008.00)">648</text>
<line x1="498.70" y1="994.90" x2="498.70" y2="999.30" stroke="#000" stroke-width="1.7" />
<text x="504.10" y="1008.00" font-size="9.8" text-anchor="end" transform="rotate(-45 504.10 1008.00)">720</text>
<text x="283.30" y="929.00" font-size="12.8" text-anchor="middle" textLength="140.0" lengthAdjust="spacingAndGlyphs" transform="rotate(-90 283.30 929.00)" >HP6H8 mab banding efficiency</text>
<text x="299.50" y="928.20" font-size="12.8" text-anchor="middle" textLength="107.5" lengthAdjust="spacingAndGlyphs" transform="rotate(-90 299.50 928.20)" >(% in whole blood cells)</text>
<text x="415.00" y="1036.70" font-size="12.8" text-anchor="middle" textLength="36.3" lengthAdjust="spacingAndGlyphs" >Time (h)</text>
<line x1="441.80" y1="868.00" x2="464.40" y2="868.00" stroke="#2b4272" stroke-width="1.6" />
<rect x="450.90" y="865.80" width="4.40" height="4.40" fill="#2b4272" stroke="#2b4272" stroke-width="1.0"/>
<text x="469.60" y="870.40" font-size="9.5" text-anchor="start" >1 (mg/kg)</text>
<line x1="441.80" y1="879.00" x2="464.40" y2="879.00" stroke="#a81a3c" stroke-width="1.6" />
<polygon points="453.10,876.36 450.68,880.76 455.52,880.76" fill="#a81a3c" stroke="#a81a3c" stroke-width="1.0"/>
<text x="469.60" y="881.40" font-size="9.5" text-anchor="start" >10 (mg/kg)</text>
<line x1="330.60" y1="918.00" x2="330.60" y2="932.00" stroke="#2b4272" stroke-width="1.2" />
<line x1="328.60" y1="918.00" x2="332.60" y2="918.00" stroke="#2b4272" stroke-width="1.2" />
<line x1="328.60" y1="932.00" x2="332.60" y2="932.00" stroke="#2b4272" stroke-width="1.2" />
<line x1="333.50" y1="915.00" x2="333.50" y2="935.00" stroke="#2b4272" stroke-width="1.2" />
<line x1="331.50" y1="915.00" x2="335.50" y2="915.00" stroke="#2b4272" stroke-width="1.2" />
<line x1="331.50" y1="935.00" x2="335.50" y2="935.00" stroke="#2b4272" stroke-width="1.2" />
<line x1="349.80" y1="905.80" x2="349.80" y2="922.70" stroke="#2b4272" stroke-width="1.2" />
<line x1="347.80" y1="905.80" x2="351.80" y2="905.80" stroke="#2b4272" stroke-width="1.2" />
<line x1="347.80" y1="922.70" x2="351.80" y2="922.70" stroke="#2b4272" stroke-width="1.2" />
<line x1="367.10" y1="896.00" x2="367.10" y2="909.60" stroke="#2b4272" stroke-width="1.2" />
<line x1="365.10" y1="896.00" x2="369.10" y2="896.00" stroke="#2b4272" stroke-width="1.2" />
<line x1="365.10" y1="909.60" x2="369.10" y2="909.60" stroke="#2b4272" stroke-width="1.2" />
<line x1="384.40" y1="901.20" x2="384.40" y2="919.60" stroke="#2b4272" stroke-width="1.2" />
<line x1="382.40" y1="901.20" x2="386.40" y2="901.20" stroke="#2b4272" stroke-width="1.2" />
<line x1="382.40" y1="919.60" x2="386.40" y2="919.60" stroke="#2b4272" stroke-width="1.2" />
<line x1="407.30" y1="886.00" x2="407.30" y2="898.70" stroke="#2b4272" stroke-width="1.2" />
<line x1="405.30" y1="886.00" x2="409.30" y2="886.00" stroke="#2b4272" stroke-width="1.2" />
<line x1="405.30" y1="898.70" x2="409.30" y2="898.70" stroke="#2b4272" stroke-width="1.2" />
<line x1="418.40" y1="910.00" x2="418.40" y2="923.00" stroke="#2b4272" stroke-width="1.2" />
<line x1="416.40" y1="910.00" x2="420.40" y2="910.00" stroke="#2b4272" stroke-width="1.2" />
<line x1="416.40" y1="923.00" x2="420.40" y2="923.00" stroke="#2b4272" stroke-width="1.2" />
<line x1="424.20" y1="908.30" x2="424.20" y2="924.60" stroke="#2b4272" stroke-width="1.2" />
<line x1="422.20" y1="908.30" x2="426.20" y2="908.30" stroke="#2b4272" stroke-width="1.2" />
<line x1="422.20" y1="924.60" x2="426.20" y2="924.60" stroke="#2b4272" stroke-width="1.2" />
<line x1="430.10" y1="919.00" x2="430.10" y2="934.00" stroke="#2b4272" stroke-width="1.2" />
<line x1="428.10" y1="919.00" x2="432.10" y2="919.00" stroke="#2b4272" stroke-width="1.2" />
<line x1="428.10" y1="934.00" x2="432.10" y2="934.00" stroke="#2b4272" stroke-width="1.2" />
<line x1="435.30" y1="909.20" x2="435.30" y2="932.30" stroke="#2b4272" stroke-width="1.2" />
<line x1="433.30" y1="909.20" x2="437.30" y2="909.20" stroke="#2b4272" stroke-width="1.2" />
<line x1="433.30" y1="932.30" x2="437.30" y2="932.30" stroke="#2b4272" stroke-width="1.2" />
<line x1="344.00" y1="887.00" x2="344.00" y2="897.00" stroke="#2b4272" stroke-width="1.2" />
<line x1="342.00" y1="887.00" x2="346.00" y2="887.00" stroke="#2b4272" stroke-width="1.2" />
<line x1="342.00" y1="897.00" x2="346.00" y2="897.00" stroke="#2b4272" stroke-width="1.2" />
<line x1="372.30" y1="882.00" x2="372.30" y2="892.00" stroke="#2b4272" stroke-width="1.2" />
<line x1="370.30" y1="882.00" x2="374.30" y2="882.00" stroke="#2b4272" stroke-width="1.2" />
<line x1="370.30" y1="892.00" x2="374.30" y2="892.00" stroke="#2b4272" stroke-width="1.2" />
<polyline points="327.70,888.80 330.30,925.80 333.30,925.80 338.50,904.20 344.30,889.60 350.00,914.20 356.20,904.20 361.50,891.20 366.90,902.70 372.30,885.00 378.50,889.60 384.60,911.20 395.40,881.20 407.30,894.00 418.40,916.60 424.20,920.00 430.10,927.30 435.30,920.80 447.00,949.50 458.40,970.80 469.60,982.00 481.30,987.90 486.50,989.20" fill="none" stroke="#2b4272" stroke-width="1.7" stroke-linejoin="round" />
<rect x="325.60" y="886.70" width="4.20" height="4.20" fill="#2b4272" stroke="#2b4272" stroke-width="1.0"/>
<rect x="328.20" y="923.70" width="4.20" height="4.20" fill="#2b4272" stroke="#2b4272" stroke-width="1.0"/>
<rect x="331.20" y="923.70" width="4.20" height="4.20" fill="#2b4272" stroke="#2b4272" stroke-width="1.0"/>
<rect x="336.40" y="902.10" width="4.20" height="4.20" fill="#2b4272" stroke="#2b4272" stroke-width="1.0"/>
<rect x="342.20" y="887.50" width="4.20" height="4.20" fill="#2b4272" stroke="#2b4272" stroke-width="1.0"/>
<rect x="347.90" y="912.10" width="4.20" height="4.20" fill="#2b4272" stroke="#2b4272" stroke-width="1.0"/>
<rect x="354.10" y="902.10" width="4.20" height="4.20" fill="#2b4272" stroke="#2b4272" stroke-width="1.0"/>
<rect x="359.40" y="889.10" width="4.20" height="4.20" fill="#2b4272" stroke="#2b4272" stroke-width="1.0"/>
<rect x="364.80" y="900.60" width="4.20" height="4.20" fill="#2b4272" stroke="#2b4272" stroke-width="1.0"/>
<rect x="370.20" y="882.90" width="4.20" height="4.20" fill="#2b4272" stroke="#2b4272" stroke-width="1.0"/>
<rect x="376.40" y="887.50" width="4.20" height="4.20" fill="#2b4272" stroke="#2b4272" stroke-width="1.0"/>
<rect x="382.50" y="909.10" width="4.20" height="4.20" fill="#2b4272" stroke="#2b4272" stroke-width="1.0"/>
<rect x="393.30" y="879.10" width="4.20" height="4.20" fill="#2b4272" stroke="#2b4272" stroke-width="1.0"/>
<rect x="405.20" y="891.90" width="4.20" height="4.20" fill="#2b4272" stroke="#2b4272" stroke-width="1.0"/>
<rect x="416.30" y="914.50" width="4.20" height="4.20" fill="#2b4272" stroke="#2b4272" stroke-width="1.0"/>
<rect x="422.10" y="917.90" width="4.20" height="4.20" fill="#2b4272" stroke="#2b4272" stroke-width="1.0"/>
<rect x="428.00" y="925.20" width="4.20" height="4.20" fill="#2b4272" stroke="#2b4272" stroke-width="1.0"/>
<rect x="433.20" y="918.70" width="4.20" height="4.20" fill="#2b4272" stroke="#2b4272" stroke-width="1.0"/>
<rect x="444.90" y="947.40" width="4.20" height="4.20" fill="#2b4272" stroke="#2b4272" stroke-width="1.0"/>
<rect x="456.30" y="968.70" width="4.20" height="4.20" fill="#2b4272" stroke="#2b4272" stroke-width="1.0"/>
<rect x="467.50" y="979.90" width="4.20" height="4.20" fill="#2b4272" stroke="#2b4272" stroke-width="1.0"/>
<rect x="479.20" y="985.80" width="4.20" height="4.20" fill="#2b4272" stroke="#2b4272" stroke-width="1.0"/>
<rect x="484.40" y="987.10" width="4.20" height="4.20" fill="#2b4272" stroke="#2b4272" stroke-width="1.0"/>
<line x1="333.50" y1="906.00" x2="333.50" y2="928.00" stroke="#a81a3c" stroke-width="1.2" />
<line x1="331.50" y1="906.00" x2="335.50" y2="906.00" stroke="#a81a3c" stroke-width="1.2" />
<line x1="331.50" y1="928.00" x2="335.50" y2="928.00" stroke="#a81a3c" stroke-width="1.2" />
<line x1="349.80" y1="893.50" x2="349.80" y2="903.00" stroke="#a81a3c" stroke-width="1.2" />
<line x1="347.80" y1="893.50" x2="351.80" y2="893.50" stroke="#a81a3c" stroke-width="1.2" />
<line x1="347.80" y1="903.00" x2="351.80" y2="903.00" stroke="#a81a3c" stroke-width="1.2" />
<line x1="361.30" y1="886.50" x2="361.30" y2="896.00" stroke="#a81a3c" stroke-width="1.2" />
<line x1="359.30" y1="886.50" x2="363.30" y2="886.50" stroke="#a81a3c" stroke-width="1.2" />
<line x1="359.30" y1="896.00" x2="363.30" y2="896.00" stroke="#a81a3c" stroke-width="1.2" />
<line x1="384.40" y1="883.20" x2="384.40" y2="912.00" stroke="#a81a3c" stroke-width="1.2" />
<line x1="382.40" y1="883.20" x2="386.40" y2="883.20" stroke="#a81a3c" stroke-width="1.2" />
<line x1="382.40" y1="912.00" x2="386.40" y2="912.00" stroke="#a81a3c" stroke-width="1.2" />
<line x1="429.40" y1="873.70" x2="429.40" y2="882.00" stroke="#a81a3c" stroke-width="1.2" />
<line x1="427.40" y1="873.70" x2="431.40" y2="873.70" stroke="#a81a3c" stroke-width="1.2" />
<line x1="427.40" y1="882.00" x2="431.40" y2="882.00" stroke="#a81a3c" stroke-width="1.2" />
<line x1="435.30" y1="874.00" x2="435.30" y2="892.00" stroke="#a81a3c" stroke-width="1.2" />
<line x1="433.30" y1="874.00" x2="437.30" y2="874.00" stroke="#a81a3c" stroke-width="1.2" />
<line x1="433.30" y1="892.00" x2="437.30" y2="892.00" stroke="#a81a3c" stroke-width="1.2" />
<line x1="447.00" y1="892.90" x2="447.00" y2="902.50" stroke="#a81a3c" stroke-width="1.2" />
<line x1="445.00" y1="892.90" x2="449.00" y2="892.90" stroke="#a81a3c" stroke-width="1.2" />
<line x1="445.00" y1="902.50" x2="449.00" y2="902.50" stroke="#a81a3c" stroke-width="1.2" />
<line x1="458.40" y1="899.60" x2="458.40" y2="922.70" stroke="#a81a3c" stroke-width="1.2" />
<line x1="456.40" y1="899.60" x2="460.40" y2="899.60" stroke="#a81a3c" stroke-width="1.2" />
<line x1="456.40" y1="922.70" x2="460.40" y2="922.70" stroke="#a81a3c" stroke-width="1.2" />
<line x1="469.60" y1="904.40" x2="469.60" y2="929.40" stroke="#a81a3c" stroke-width="1.2" />
<line x1="467.60" y1="904.40" x2="471.60" y2="904.40" stroke="#a81a3c" stroke-width="1.2" />
<line x1="467.60" y1="929.40" x2="471.60" y2="929.40" stroke="#a81a3c" stroke-width="1.2" />
<line x1="481.30" y1="951.00" x2="481.30" y2="957.00" stroke="#a81a3c" stroke-width="1.2" />
<line x1="479.30" y1="951.00" x2="483.30" y2="951.00" stroke="#a81a3c" stroke-width="1.2" />
<line x1="479.30" y1="957.00" x2="483.30" y2="957.00" stroke="#a81a3c" stroke-width="1.2" />
<polyline points="327.70,906.50 330.60,911.20 333.50,914.20 338.50,901.90 344.30,896.50 350.00,898.10 356.20,900.40 361.50,891.20 366.90,896.50 372.30,906.50 378.50,898.80 384.60,897.30 395.40,885.80 407.50,878.50 418.10,878.50 423.80,878.50 429.60,876.90 435.40,882.30 446.50,898.70 458.50,911.20 470.00,916.90 481.30,954.70 486.50,958.00" fill="none" stroke="#a81a3c" stroke-width="1.7" stroke-linejoin="round" />
<polygon points="327.70,904.46 325.83,907.86 329.57,907.86" fill="#a81a3c" stroke="#a81a3c" stroke-width="1.0"/>
<polygon points="330.60,909.16 328.73,912.56 332.47,912.56" fill="#a81a3c" stroke="#a81a3c" stroke-width="1.0"/>
<polygon points="333.50,912.16 331.63,915.56 335.37,915.56" fill="#a81a3c" stroke="#a81a3c" stroke-width="1.0"/>
<polygon points="338.50,899.86 336.63,903.26 340.37,903.26" fill="#a81a3c" stroke="#a81a3c" stroke-width="1.0"/>
<polygon points="344.30,894.46 342.43,897.86 346.17,897.86" fill="#a81a3c" stroke="#a81a3c" stroke-width="1.0"/>
<polygon points="350.00,896.06 348.13,899.46 351.87,899.46" fill="#a81a3c" stroke="#a81a3c" stroke-width="1.0"/>
<polygon points="356.20,898.36 354.33,901.76 358.07,901.76" fill="#a81a3c" stroke="#a81a3c" stroke-width="1.0"/>
<polygon points="361.50,889.16 359.63,892.56 363.37,892.56" fill="#a81a3c" stroke="#a81a3c" stroke-width="1.0"/>
<polygon points="366.90,894.46 365.03,897.86 368.77,897.86" fill="#a81a3c" stroke="#a81a3c" stroke-width="1.0"/>
<polygon points="372.30,904.46 370.43,907.86 374.17,907.86" fill="#a81a3c" stroke="#a81a3c" stroke-width="1.0"/>
<polygon points="378.50,896.76 376.63,900.16 380.37,900.16" fill="#a81a3c" stroke="#a81a3c" stroke-width="1.0"/>
<polygon points="384.60,895.26 382.73,898.66 386.47,898.66" fill="#a81a3c" stroke="#a81a3c" stroke-width="1.0"/>
<polygon points="395.40,883.76 393.53,887.16 397.27,887.16" fill="#a81a3c" stroke="#a81a3c" stroke-width="1.0"/>
<polygon points="407.50,876.46 405.63,879.86 409.37,879.86" fill="#a81a3c" stroke="#a81a3c" stroke-width="1.0"/>
<polygon points="418.10,876.46 416.23,879.86 419.97,879.86" fill="#a81a3c" stroke="#a81a3c" stroke-width="1.0"/>
<polygon points="423.80,876.46 421.93,879.86 425.67,879.86" fill="#a81a3c" stroke="#a81a3c" stroke-width="1.0"/>
<polygon points="429.60,874.86 427.73,878.26 431.47,878.26" fill="#a81a3c" stroke="#a81a3c" stroke-width="1.0"/>
<polygon points="435.40,880.26 433.53,883.66 437.27,883.66" fill="#a81a3c" stroke="#a81a3c" stroke-width="1.0"/>
<polygon points="446.50,896.66 444.63,900.06 448.37,900.06" fill="#a81a3c" stroke="#a81a3c" stroke-width="1.0"/>
<polygon points="458.50,909.16 456.63,912.56 460.37,912.56" fill="#a81a3c" stroke="#a81a3c" stroke-width="1.0"/>
<polygon points="470.00,914.86 468.13,918.26 471.87,918.26" fill="#a81a3c" stroke="#a81a3c" stroke-width="1.0"/>
<polygon points="481.30,952.66 479.43,956.06 483.17,956.06" fill="#a81a3c" stroke="#a81a3c" stroke-width="1.0"/>
<polygon points="486.50,955.96 484.63,959.36 488.37,959.36" fill="#a81a3c" stroke="#a81a3c" stroke-width="1.0"/>
</svg>
</body></html>
